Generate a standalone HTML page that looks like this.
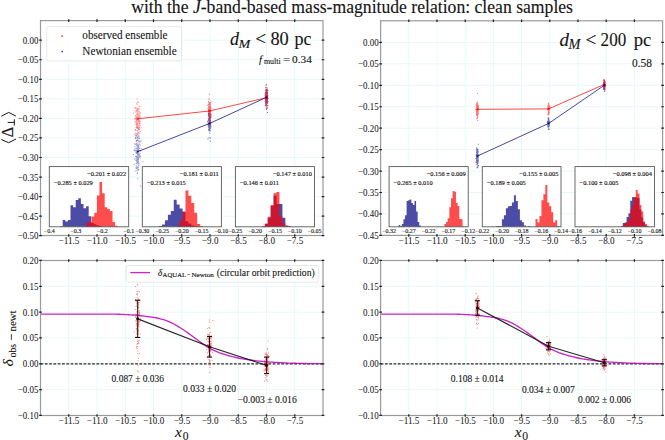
<!DOCTYPE html>
<html><head><meta charset="utf-8"><title>chart</title>
<style>html,body{margin:0;padding:0;background:#fff;} svg{display:block;}</style>
</head><body>
<svg width="665" height="440" viewBox="0 0 665 440" font-family='"Liberation Serif", serif'>
<rect width="665" height="440" fill="#fff"/>
<text x="131.2" y="13.4" font-size="18.2" fill="#141414" stroke="#141414" stroke-width="0.12" textLength="441.8" lengthAdjust="spacingAndGlyphs">with the <tspan font-style="italic">J</tspan>-band-based mass-magnitude relation: clean samples</text>
<line x1="68.75" y1="20.6" x2="68.75" y2="235.5" stroke="#e8f8f8" stroke-width="1.0"/>
<line x1="97.00" y1="20.6" x2="97.00" y2="235.5" stroke="#e8f8f8" stroke-width="1.0"/>
<line x1="125.25" y1="20.6" x2="125.25" y2="235.5" stroke="#e8f8f8" stroke-width="1.0"/>
<line x1="153.50" y1="20.6" x2="153.50" y2="235.5" stroke="#e8f8f8" stroke-width="1.0"/>
<line x1="181.75" y1="20.6" x2="181.75" y2="235.5" stroke="#e8f8f8" stroke-width="1.0"/>
<line x1="210.00" y1="20.6" x2="210.00" y2="235.5" stroke="#e8f8f8" stroke-width="1.0"/>
<line x1="238.25" y1="20.6" x2="238.25" y2="235.5" stroke="#e8f8f8" stroke-width="1.0"/>
<line x1="266.50" y1="20.6" x2="266.50" y2="235.5" stroke="#e8f8f8" stroke-width="1.0"/>
<line x1="294.75" y1="20.6" x2="294.75" y2="235.5" stroke="#e8f8f8" stroke-width="1.0"/>
<line x1="40.5" y1="40.20" x2="323.0" y2="40.20" stroke="#e8f8f8" stroke-width="1.0"/>
<line x1="40.5" y1="59.75" x2="323.0" y2="59.75" stroke="#e8f8f8" stroke-width="1.0"/>
<line x1="40.5" y1="79.30" x2="323.0" y2="79.30" stroke="#e8f8f8" stroke-width="1.0"/>
<line x1="40.5" y1="98.85" x2="323.0" y2="98.85" stroke="#e8f8f8" stroke-width="1.0"/>
<line x1="40.5" y1="118.40" x2="323.0" y2="118.40" stroke="#e8f8f8" stroke-width="1.0"/>
<line x1="40.5" y1="137.95" x2="323.0" y2="137.95" stroke="#e8f8f8" stroke-width="1.0"/>
<line x1="40.5" y1="157.50" x2="323.0" y2="157.50" stroke="#e8f8f8" stroke-width="1.0"/>
<line x1="40.5" y1="177.05" x2="323.0" y2="177.05" stroke="#e8f8f8" stroke-width="1.0"/>
<line x1="40.5" y1="196.60" x2="323.0" y2="196.60" stroke="#e8f8f8" stroke-width="1.0"/>
<line x1="40.5" y1="216.15" x2="323.0" y2="216.15" stroke="#e8f8f8" stroke-width="1.0"/>
<line x1="40.5" y1="235.70" x2="323.0" y2="235.70" stroke="#e8f8f8" stroke-width="1.0"/>
<line x1="408.80" y1="20.8" x2="408.80" y2="235.4" stroke="#e8f8f8" stroke-width="1.0"/>
<line x1="437.00" y1="20.8" x2="437.00" y2="235.4" stroke="#e8f8f8" stroke-width="1.0"/>
<line x1="465.20" y1="20.8" x2="465.20" y2="235.4" stroke="#e8f8f8" stroke-width="1.0"/>
<line x1="493.40" y1="20.8" x2="493.40" y2="235.4" stroke="#e8f8f8" stroke-width="1.0"/>
<line x1="521.60" y1="20.8" x2="521.60" y2="235.4" stroke="#e8f8f8" stroke-width="1.0"/>
<line x1="549.80" y1="20.8" x2="549.80" y2="235.4" stroke="#e8f8f8" stroke-width="1.0"/>
<line x1="578.00" y1="20.8" x2="578.00" y2="235.4" stroke="#e8f8f8" stroke-width="1.0"/>
<line x1="606.20" y1="20.8" x2="606.20" y2="235.4" stroke="#e8f8f8" stroke-width="1.0"/>
<line x1="634.40" y1="20.8" x2="634.40" y2="235.4" stroke="#e8f8f8" stroke-width="1.0"/>
<line x1="380.6" y1="42.40" x2="662.6" y2="42.40" stroke="#e8f8f8" stroke-width="1.0"/>
<line x1="380.6" y1="63.84" x2="662.6" y2="63.84" stroke="#e8f8f8" stroke-width="1.0"/>
<line x1="380.6" y1="85.29" x2="662.6" y2="85.29" stroke="#e8f8f8" stroke-width="1.0"/>
<line x1="380.6" y1="106.73" x2="662.6" y2="106.73" stroke="#e8f8f8" stroke-width="1.0"/>
<line x1="380.6" y1="128.18" x2="662.6" y2="128.18" stroke="#e8f8f8" stroke-width="1.0"/>
<line x1="380.6" y1="149.62" x2="662.6" y2="149.62" stroke="#e8f8f8" stroke-width="1.0"/>
<line x1="380.6" y1="171.07" x2="662.6" y2="171.07" stroke="#e8f8f8" stroke-width="1.0"/>
<line x1="380.6" y1="192.51" x2="662.6" y2="192.51" stroke="#e8f8f8" stroke-width="1.0"/>
<line x1="380.6" y1="213.96" x2="662.6" y2="213.96" stroke="#e8f8f8" stroke-width="1.0"/>
<line x1="380.6" y1="235.41" x2="662.6" y2="235.41" stroke="#e8f8f8" stroke-width="1.0"/>
<line x1="68.75" y1="260.5" x2="68.75" y2="415.5" stroke="#e8f8f8" stroke-width="1.0"/>
<line x1="97.00" y1="260.5" x2="97.00" y2="415.5" stroke="#e8f8f8" stroke-width="1.0"/>
<line x1="125.25" y1="260.5" x2="125.25" y2="415.5" stroke="#e8f8f8" stroke-width="1.0"/>
<line x1="153.50" y1="260.5" x2="153.50" y2="415.5" stroke="#e8f8f8" stroke-width="1.0"/>
<line x1="181.75" y1="260.5" x2="181.75" y2="415.5" stroke="#e8f8f8" stroke-width="1.0"/>
<line x1="210.00" y1="260.5" x2="210.00" y2="415.5" stroke="#e8f8f8" stroke-width="1.0"/>
<line x1="238.25" y1="260.5" x2="238.25" y2="415.5" stroke="#e8f8f8" stroke-width="1.0"/>
<line x1="266.50" y1="260.5" x2="266.50" y2="415.5" stroke="#e8f8f8" stroke-width="1.0"/>
<line x1="294.75" y1="260.5" x2="294.75" y2="415.5" stroke="#e8f8f8" stroke-width="1.0"/>
<line x1="40.5" y1="260.46" x2="323.0" y2="260.46" stroke="#e8f8f8" stroke-width="1.0"/>
<line x1="40.5" y1="286.30" x2="323.0" y2="286.30" stroke="#e8f8f8" stroke-width="1.0"/>
<line x1="40.5" y1="312.13" x2="323.0" y2="312.13" stroke="#e8f8f8" stroke-width="1.0"/>
<line x1="40.5" y1="337.97" x2="323.0" y2="337.97" stroke="#e8f8f8" stroke-width="1.0"/>
<line x1="40.5" y1="363.80" x2="323.0" y2="363.80" stroke="#e8f8f8" stroke-width="1.0"/>
<line x1="40.5" y1="389.63" x2="323.0" y2="389.63" stroke="#e8f8f8" stroke-width="1.0"/>
<line x1="40.5" y1="415.47" x2="323.0" y2="415.47" stroke="#e8f8f8" stroke-width="1.0"/>
<line x1="408.80" y1="260.5" x2="408.80" y2="415.5" stroke="#e8f8f8" stroke-width="1.0"/>
<line x1="437.00" y1="260.5" x2="437.00" y2="415.5" stroke="#e8f8f8" stroke-width="1.0"/>
<line x1="465.20" y1="260.5" x2="465.20" y2="415.5" stroke="#e8f8f8" stroke-width="1.0"/>
<line x1="493.40" y1="260.5" x2="493.40" y2="415.5" stroke="#e8f8f8" stroke-width="1.0"/>
<line x1="521.60" y1="260.5" x2="521.60" y2="415.5" stroke="#e8f8f8" stroke-width="1.0"/>
<line x1="549.80" y1="260.5" x2="549.80" y2="415.5" stroke="#e8f8f8" stroke-width="1.0"/>
<line x1="578.00" y1="260.5" x2="578.00" y2="415.5" stroke="#e8f8f8" stroke-width="1.0"/>
<line x1="606.20" y1="260.5" x2="606.20" y2="415.5" stroke="#e8f8f8" stroke-width="1.0"/>
<line x1="634.40" y1="260.5" x2="634.40" y2="415.5" stroke="#e8f8f8" stroke-width="1.0"/>
<line x1="380.6" y1="260.46" x2="662.6" y2="260.46" stroke="#e8f8f8" stroke-width="1.0"/>
<line x1="380.6" y1="286.30" x2="662.6" y2="286.30" stroke="#e8f8f8" stroke-width="1.0"/>
<line x1="380.6" y1="312.13" x2="662.6" y2="312.13" stroke="#e8f8f8" stroke-width="1.0"/>
<line x1="380.6" y1="337.97" x2="662.6" y2="337.97" stroke="#e8f8f8" stroke-width="1.0"/>
<line x1="380.6" y1="363.80" x2="662.6" y2="363.80" stroke="#e8f8f8" stroke-width="1.0"/>
<line x1="380.6" y1="389.63" x2="662.6" y2="389.63" stroke="#e8f8f8" stroke-width="1.0"/>
<line x1="380.6" y1="415.47" x2="662.6" y2="415.47" stroke="#e8f8f8" stroke-width="1.0"/>
<path d="M135.9 133.2h1v1h-1zM137.1 139.8h1v1h-1zM137.0 139.2h1v1h-1zM137.9 161.1h1v1h-1zM135.1 155.9h1v1h-1zM136.8 173.0h1v1h-1zM136.6 144.9h1v1h-1zM137.1 148.2h1v1h-1zM137.6 151.2h1v1h-1zM138.2 135.9h1v1h-1zM135.8 144.8h1v1h-1zM137.5 140.1h1v1h-1zM137.1 178.3h1v1h-1zM138.2 147.1h1v1h-1zM138.3 164.2h1v1h-1zM136.0 155.9h1v1h-1zM137.2 151.4h1v1h-1zM136.3 159.2h1v1h-1zM137.5 146.7h1v1h-1zM136.0 153.1h1v1h-1zM140.6 140.3h1v1h-1zM138.0 159.0h1v1h-1zM138.2 165.3h1v1h-1zM136.6 142.5h1v1h-1zM136.4 150.6h1v1h-1zM138.2 162.2h1v1h-1zM141.2 148.3h1v1h-1zM140.1 141.3h1v1h-1zM139.0 138.0h1v1h-1zM139.9 185.6h1v1h-1zM139.8 150.4h1v1h-1zM137.8 150.2h1v1h-1zM136.6 145.6h1v1h-1zM138.4 140.4h1v1h-1zM137.4 132.7h1v1h-1zM138.0 154.5h1v1h-1zM136.2 155.6h1v1h-1zM133.6 149.8h1v1h-1zM136.2 167.9h1v1h-1zM137.5 145.3h1v1h-1zM136.9 157.2h1v1h-1zM140.0 150.0h1v1h-1zM138.1 149.7h1v1h-1zM137.6 160.4h1v1h-1zM135.5 158.2h1v1h-1zM136.7 156.1h1v1h-1zM138.8 150.0h1v1h-1zM138.5 154.8h1v1h-1zM138.2 156.6h1v1h-1zM136.9 171.7h1v1h-1zM136.8 144.4h1v1h-1zM137.6 169.7h1v1h-1zM137.1 154.0h1v1h-1zM137.5 128.3h1v1h-1zM137.2 154.5h1v1h-1zM134.0 149.6h1v1h-1zM134.6 143.9h1v1h-1zM139.0 138.3h1v1h-1zM136.1 161.3h1v1h-1zM135.7 163.2h1v1h-1zM138.5 137.3h1v1h-1zM138.2 168.9h1v1h-1zM135.5 167.8h1v1h-1zM135.2 150.1h1v1h-1zM136.7 153.0h1v1h-1zM137.6 170.0h1v1h-1zM139.5 152.8h1v1h-1zM135.0 136.7h1v1h-1zM137.3 158.3h1v1h-1zM138.1 153.7h1v1h-1zM135.8 142.9h1v1h-1zM139.2 141.4h1v1h-1zM138.3 137.2h1v1h-1zM136.2 161.3h1v1h-1zM137.9 149.3h1v1h-1zM134.7 159.7h1v1h-1zM136.8 162.0h1v1h-1zM137.6 144.6h1v1h-1zM138.3 140.9h1v1h-1zM139.8 144.6h1v1h-1zM137.4 145.8h1v1h-1zM136.9 152.9h1v1h-1zM136.6 140.1h1v1h-1zM137.3 158.7h1v1h-1zM137.6 166.9h1v1h-1zM137.6 152.8h1v1h-1zM137.9 132.3h1v1h-1zM133.7 163.7h1v1h-1zM138.8 156.2h1v1h-1zM137.3 160.7h1v1h-1zM138.3 156.0h1v1h-1zM135.5 147.8h1v1h-1zM135.7 151.7h1v1h-1zM136.8 156.2h1v1h-1zM136.4 149.8h1v1h-1zM134.9 138.0h1v1h-1zM135.9 135.3h1v1h-1zM136.6 166.0h1v1h-1zM139.5 157.5h1v1h-1zM135.3 136.9h1v1h-1zM134.7 170.4h1v1h-1zM136.6 126.7h1v1h-1zM135.6 165.3h1v1h-1zM138.0 159.1h1v1h-1zM135.5 152.3h1v1h-1zM136.7 152.3h1v1h-1zM138.4 157.1h1v1h-1zM137.9 156.2h1v1h-1zM134.4 148.4h1v1h-1zM136.6 166.7h1v1h-1zM137.7 159.7h1v1h-1zM139.5 147.7h1v1h-1zM136.8 124.1h1v1h-1zM138.6 148.0h1v1h-1zM136.6 159.0h1v1h-1zM136.8 168.1h1v1h-1zM139.0 154.3h1v1h-1zM137.0 149.5h1v1h-1zM137.0 136.9h1v1h-1zM136.5 135.9h1v1h-1zM137.9 167.3h1v1h-1zM136.3 169.7h1v1h-1zM137.3 146.8h1v1h-1zM134.2 158.5h1v1h-1zM138.1 148.9h1v1h-1zM136.8 157.8h1v1h-1zM137.3 160.4h1v1h-1zM136.0 148.2h1v1h-1zM136.7 148.2h1v1h-1zM138.4 163.3h1v1h-1zM138.9 154.5h1v1h-1zM138.3 144.9h1v1h-1zM138.1 154.2h1v1h-1zM135.8 139.9h1v1h-1zM135.3 129.8h1v1h-1zM134.5 150.2h1v1h-1zM138.4 146.2h1v1h-1zM142.5 161.2h1v1h-1zM138.0 158.1h1v1h-1zM137.9 150.8h1v1h-1zM138.4 129.1h1v1h-1zM138.5 140.5h1v1h-1zM139.4 155.0h1v1h-1zM137.1 158.0h1v1h-1zM135.4 151.6h1v1h-1zM137.7 153.2h1v1h-1zM137.6 161.6h1v1h-1zM136.8 146.8h1v1h-1zM140.0 155.8h1v1h-1zM136.9 156.8h1v1h-1zM136.7 160.2h1v1h-1zM138.7 143.8h1v1h-1zM138.1 140.7h1v1h-1zM134.4 146.2h1v1h-1zM137.9 137.8h1v1h-1zM138.0 152.9h1v1h-1zM137.5 169.0h1v1h-1zM134.3 143.2h1v1h-1zM138.3 135.3h1v1h-1zM136.9 166.4h1v1h-1zM135.9 163.1h1v1h-1zM135.8 156.8h1v1h-1zM135.6 167.0h1v1h-1zM135.7 152.5h1v1h-1zM137.8 162.8h1v1h-1zM137.3 159.1h1v1h-1zM136.4 143.8h1v1h-1zM136.0 144.7h1v1h-1zM136.4 135.3h1v1h-1zM137.2 163.3h1v1h-1zM133.0 154.1h1v1h-1zM135.6 140.7h1v1h-1zM137.5 148.9h1v1h-1zM137.7 148.4h1v1h-1zM136.1 160.0h1v1h-1zM136.8 161.9h1v1h-1zM135.1 134.4h1v1h-1zM135.7 139.4h1v1h-1zM136.8 155.7h1v1h-1zM138.7 156.0h1v1h-1z" fill="#000080" fill-opacity="0.4"/>
<path d="M138.5 142.5h1v1h-1zM136.9 109.7h1v1h-1zM139.3 116.2h1v1h-1zM139.5 116.1h1v1h-1zM137.3 123.1h1v1h-1zM139.3 124.3h1v1h-1zM135.7 126.9h1v1h-1zM136.9 133.8h1v1h-1zM136.3 124.0h1v1h-1zM137.0 123.0h1v1h-1zM136.3 127.8h1v1h-1zM136.8 130.1h1v1h-1zM138.6 129.6h1v1h-1zM137.7 118.9h1v1h-1zM138.3 123.2h1v1h-1zM137.5 110.2h1v1h-1zM138.5 108.5h1v1h-1zM137.1 134.2h1v1h-1zM137.9 118.7h1v1h-1zM135.1 121.5h1v1h-1zM139.5 117.0h1v1h-1zM136.0 110.6h1v1h-1zM138.3 121.3h1v1h-1zM135.6 137.4h1v1h-1zM137.6 123.1h1v1h-1zM136.7 116.1h1v1h-1zM137.5 120.8h1v1h-1zM136.5 103.9h1v1h-1zM137.3 113.9h1v1h-1zM134.3 117.9h1v1h-1zM139.1 126.9h1v1h-1zM136.2 119.2h1v1h-1zM139.9 117.7h1v1h-1zM133.5 107.2h1v1h-1zM136.5 108.1h1v1h-1zM137.8 109.0h1v1h-1zM136.8 120.1h1v1h-1zM136.5 111.5h1v1h-1zM139.7 112.7h1v1h-1zM139.3 120.5h1v1h-1zM139.5 114.9h1v1h-1zM138.0 117.1h1v1h-1zM135.8 117.4h1v1h-1zM135.3 116.2h1v1h-1zM136.0 140.4h1v1h-1zM136.0 120.1h1v1h-1zM139.3 106.1h1v1h-1zM138.6 118.4h1v1h-1zM138.3 114.1h1v1h-1zM139.0 121.1h1v1h-1zM136.5 98.5h1v1h-1zM139.5 123.1h1v1h-1zM137.5 117.8h1v1h-1zM136.7 110.3h1v1h-1zM135.0 107.0h1v1h-1zM136.4 107.4h1v1h-1zM138.4 127.5h1v1h-1zM138.3 131.4h1v1h-1zM135.0 118.0h1v1h-1zM139.7 120.3h1v1h-1zM135.7 118.9h1v1h-1zM136.8 127.7h1v1h-1zM136.6 108.3h1v1h-1zM136.4 127.8h1v1h-1zM134.7 107.8h1v1h-1zM134.5 129.6h1v1h-1zM135.8 110.0h1v1h-1zM135.7 121.9h1v1h-1zM139.2 124.7h1v1h-1zM137.8 113.7h1v1h-1zM137.8 113.5h1v1h-1zM137.7 126.9h1v1h-1zM135.1 111.6h1v1h-1zM137.8 124.9h1v1h-1zM137.0 119.8h1v1h-1zM138.2 120.1h1v1h-1zM135.2 116.5h1v1h-1zM138.3 120.4h1v1h-1zM135.9 118.6h1v1h-1zM135.6 121.3h1v1h-1zM135.0 129.2h1v1h-1zM136.1 102.8h1v1h-1zM137.7 118.7h1v1h-1zM135.8 121.7h1v1h-1zM137.1 113.1h1v1h-1zM136.3 113.9h1v1h-1zM137.4 112.2h1v1h-1zM135.2 114.9h1v1h-1zM138.3 121.4h1v1h-1zM135.9 123.6h1v1h-1zM137.1 126.7h1v1h-1zM139.3 124.8h1v1h-1zM134.6 123.7h1v1h-1zM137.8 125.7h1v1h-1zM138.2 128.4h1v1h-1zM136.6 126.5h1v1h-1zM139.7 112.0h1v1h-1zM136.9 120.7h1v1h-1zM139.0 121.8h1v1h-1zM139.6 125.0h1v1h-1zM137.8 117.3h1v1h-1zM137.7 108.3h1v1h-1zM136.5 117.1h1v1h-1zM138.1 101.9h1v1h-1zM137.0 117.3h1v1h-1zM136.1 117.1h1v1h-1zM137.3 117.4h1v1h-1zM136.2 120.5h1v1h-1zM138.6 115.7h1v1h-1zM138.5 116.5h1v1h-1zM136.2 115.8h1v1h-1zM135.9 117.6h1v1h-1zM136.3 102.4h1v1h-1zM136.6 119.6h1v1h-1zM138.5 126.3h1v1h-1zM138.6 122.9h1v1h-1zM136.8 114.4h1v1h-1zM137.8 120.1h1v1h-1zM138.7 131.3h1v1h-1zM137.0 109.0h1v1h-1zM135.9 122.9h1v1h-1zM137.3 117.3h1v1h-1zM133.2 112.6h1v1h-1zM135.5 110.4h1v1h-1zM138.4 115.4h1v1h-1zM138.1 126.5h1v1h-1zM134.5 121.2h1v1h-1zM139.3 128.3h1v1h-1zM136.8 108.7h1v1h-1zM139.0 124.7h1v1h-1zM137.0 101.3h1v1h-1zM140.6 126.7h1v1h-1zM137.8 119.7h1v1h-1zM136.1 109.4h1v1h-1zM136.6 123.8h1v1h-1zM140.0 130.7h1v1h-1zM136.1 124.9h1v1h-1zM136.8 113.6h1v1h-1zM137.1 138.1h1v1h-1zM139.1 132.7h1v1h-1zM136.5 122.1h1v1h-1zM136.4 120.3h1v1h-1zM137.4 119.8h1v1h-1zM136.9 133.5h1v1h-1zM139.3 112.6h1v1h-1zM138.6 107.7h1v1h-1zM137.3 125.4h1v1h-1zM138.4 122.3h1v1h-1zM138.8 121.9h1v1h-1zM136.6 113.0h1v1h-1zM137.7 133.9h1v1h-1zM136.7 126.7h1v1h-1zM138.3 110.6h1v1h-1zM134.7 119.2h1v1h-1zM137.1 130.6h1v1h-1zM138.1 108.6h1v1h-1zM136.2 124.8h1v1h-1zM138.5 105.6h1v1h-1zM138.0 128.1h1v1h-1zM135.2 116.7h1v1h-1zM139.1 113.4h1v1h-1zM138.3 123.3h1v1h-1zM137.5 116.6h1v1h-1zM137.0 110.4h1v1h-1zM137.9 114.5h1v1h-1zM135.1 132.6h1v1h-1zM136.0 125.8h1v1h-1zM139.6 121.4h1v1h-1zM136.8 120.7h1v1h-1zM138.5 127.8h1v1h-1zM137.2 126.3h1v1h-1zM137.7 117.2h1v1h-1zM135.8 122.6h1v1h-1zM137.0 116.6h1v1h-1zM136.4 122.7h1v1h-1zM135.5 134.5h1v1h-1zM138.4 119.7h1v1h-1zM136.6 123.9h1v1h-1zM138.5 110.9h1v1h-1zM133.8 133.7h1v1h-1z" fill="#ff0000" fill-opacity="0.42"/>
<path d="M208.7 121.1h1v1h-1zM209.1 126.3h1v1h-1zM210.3 116.9h1v1h-1zM208.7 122.1h1v1h-1zM208.7 130.3h1v1h-1zM209.6 123.6h1v1h-1zM209.4 124.5h1v1h-1zM208.0 119.0h1v1h-1zM207.9 118.2h1v1h-1zM209.5 123.5h1v1h-1zM208.5 120.0h1v1h-1zM210.0 140.7h1v1h-1zM208.9 117.7h1v1h-1zM208.7 120.1h1v1h-1zM208.7 123.6h1v1h-1zM208.5 123.1h1v1h-1zM208.9 120.3h1v1h-1zM209.0 124.9h1v1h-1zM208.4 123.0h1v1h-1zM209.0 118.4h1v1h-1zM208.5 120.4h1v1h-1zM208.2 124.8h1v1h-1zM208.2 126.8h1v1h-1zM208.9 125.6h1v1h-1zM209.8 128.1h1v1h-1zM209.4 115.9h1v1h-1zM208.5 124.4h1v1h-1zM209.8 124.0h1v1h-1zM209.2 128.8h1v1h-1zM208.4 109.6h1v1h-1zM209.1 123.5h1v1h-1zM209.3 118.6h1v1h-1zM208.8 123.5h1v1h-1zM208.7 114.7h1v1h-1zM209.4 123.3h1v1h-1zM209.2 126.7h1v1h-1zM208.9 117.3h1v1h-1zM209.6 129.9h1v1h-1zM209.4 122.9h1v1h-1zM208.0 129.3h1v1h-1zM209.3 119.4h1v1h-1zM209.0 124.3h1v1h-1zM207.1 123.9h1v1h-1zM209.3 116.0h1v1h-1zM210.4 123.5h1v1h-1zM209.3 120.1h1v1h-1zM209.1 124.0h1v1h-1zM207.9 124.0h1v1h-1zM209.8 122.9h1v1h-1zM209.4 113.1h1v1h-1zM210.6 116.5h1v1h-1zM209.2 130.2h1v1h-1zM209.2 129.3h1v1h-1zM208.3 129.4h1v1h-1zM209.2 115.9h1v1h-1zM209.8 113.6h1v1h-1zM209.3 121.4h1v1h-1zM209.4 124.5h1v1h-1zM209.1 119.3h1v1h-1zM209.0 129.6h1v1h-1zM209.6 125.0h1v1h-1zM208.4 121.5h1v1h-1zM209.1 125.8h1v1h-1zM209.9 115.2h1v1h-1zM209.6 122.2h1v1h-1zM208.8 126.8h1v1h-1zM207.6 120.3h1v1h-1zM209.6 121.1h1v1h-1zM208.6 125.9h1v1h-1zM209.0 120.5h1v1h-1zM209.2 123.1h1v1h-1zM208.9 122.1h1v1h-1zM209.4 118.1h1v1h-1zM208.5 122.1h1v1h-1zM208.7 120.9h1v1h-1zM210.0 121.7h1v1h-1zM209.9 116.3h1v1h-1zM209.6 121.9h1v1h-1zM209.0 123.9h1v1h-1zM208.5 110.8h1v1h-1zM209.9 119.7h1v1h-1zM210.0 125.3h1v1h-1zM208.6 137.2h1v1h-1zM208.8 121.7h1v1h-1zM209.1 121.8h1v1h-1zM209.7 120.6h1v1h-1zM209.6 125.4h1v1h-1zM209.8 126.2h1v1h-1zM209.3 126.3h1v1h-1zM209.7 126.4h1v1h-1zM208.7 112.2h1v1h-1zM209.4 119.7h1v1h-1zM209.1 121.8h1v1h-1zM208.6 118.7h1v1h-1zM209.1 123.0h1v1h-1zM208.5 127.4h1v1h-1zM208.6 121.6h1v1h-1zM207.9 114.8h1v1h-1zM208.3 113.7h1v1h-1zM208.4 115.9h1v1h-1zM209.3 119.9h1v1h-1zM208.6 128.2h1v1h-1zM209.1 126.8h1v1h-1zM209.6 121.5h1v1h-1zM209.3 125.8h1v1h-1zM208.6 121.6h1v1h-1zM208.8 118.7h1v1h-1zM209.0 116.6h1v1h-1zM208.4 119.0h1v1h-1zM208.9 129.5h1v1h-1zM208.6 125.9h1v1h-1zM208.1 119.2h1v1h-1zM208.7 124.9h1v1h-1zM209.1 113.6h1v1h-1zM210.1 121.4h1v1h-1zM209.5 123.3h1v1h-1zM209.7 125.3h1v1h-1zM209.1 124.5h1v1h-1zM208.7 122.4h1v1h-1zM208.3 123.7h1v1h-1zM208.0 128.9h1v1h-1zM209.8 122.9h1v1h-1zM209.6 113.9h1v1h-1zM208.4 122.1h1v1h-1zM207.8 123.5h1v1h-1zM208.7 116.0h1v1h-1zM208.1 113.1h1v1h-1zM209.5 128.0h1v1h-1zM209.4 123.5h1v1h-1zM208.2 114.0h1v1h-1zM209.7 130.4h1v1h-1zM208.5 120.0h1v1h-1zM209.0 125.3h1v1h-1zM209.1 124.6h1v1h-1zM207.0 121.3h1v1h-1zM209.1 122.5h1v1h-1zM209.1 118.8h1v1h-1zM207.8 125.6h1v1h-1zM209.6 118.2h1v1h-1zM208.9 130.2h1v1h-1zM208.7 110.4h1v1h-1zM209.3 123.9h1v1h-1zM209.8 122.9h1v1h-1zM209.1 122.6h1v1h-1zM209.7 126.8h1v1h-1zM209.7 123.7h1v1h-1zM209.2 122.9h1v1h-1zM208.7 125.9h1v1h-1zM209.7 125.1h1v1h-1zM210.3 127.3h1v1h-1zM209.6 116.1h1v1h-1zM209.3 128.2h1v1h-1zM208.6 118.8h1v1h-1zM207.4 138.5h1v1h-1zM208.1 126.5h1v1h-1zM209.1 125.6h1v1h-1zM209.3 126.7h1v1h-1zM209.7 119.7h1v1h-1zM210.6 125.7h1v1h-1zM208.8 115.1h1v1h-1zM208.3 122.3h1v1h-1zM208.0 128.9h1v1h-1zM209.9 137.5h1v1h-1zM208.5 122.1h1v1h-1zM209.1 132.5h1v1h-1zM209.4 119.8h1v1h-1zM208.4 125.6h1v1h-1zM209.4 119.4h1v1h-1zM209.3 121.6h1v1h-1zM208.6 122.8h1v1h-1zM208.7 112.4h1v1h-1zM209.2 124.9h1v1h-1zM209.0 122.4h1v1h-1zM209.3 119.8h1v1h-1zM208.9 125.8h1v1h-1zM210.0 117.7h1v1h-1zM208.9 127.6h1v1h-1zM209.7 124.4h1v1h-1zM209.5 125.6h1v1h-1zM208.8 129.1h1v1h-1zM210.5 114.7h1v1h-1zM208.5 120.1h1v1h-1zM209.9 125.4h1v1h-1zM208.3 129.4h1v1h-1zM208.9 121.0h1v1h-1zM208.3 120.0h1v1h-1zM209.3 116.7h1v1h-1zM208.5 118.4h1v1h-1zM209.2 129.0h1v1h-1zM208.5 118.1h1v1h-1z" fill="#000080" fill-opacity="0.55"/>
<path d="M209.6 114.0h1v1h-1zM208.4 110.1h1v1h-1zM209.0 115.9h1v1h-1zM210.4 121.9h1v1h-1zM210.2 111.1h1v1h-1zM208.5 119.8h1v1h-1zM208.9 93.4h1v1h-1zM208.3 114.0h1v1h-1zM208.3 111.7h1v1h-1zM208.7 111.9h1v1h-1zM208.8 109.7h1v1h-1zM208.3 111.3h1v1h-1zM207.8 112.4h1v1h-1zM208.6 99.3h1v1h-1zM209.5 113.4h1v1h-1zM209.1 113.4h1v1h-1zM208.7 111.8h1v1h-1zM209.8 105.7h1v1h-1zM208.9 112.2h1v1h-1zM209.9 112.5h1v1h-1zM208.6 110.0h1v1h-1zM209.1 109.6h1v1h-1zM209.8 108.7h1v1h-1zM208.4 106.5h1v1h-1zM209.7 113.9h1v1h-1zM209.2 111.6h1v1h-1zM208.6 106.6h1v1h-1zM209.0 115.4h1v1h-1zM209.4 107.5h1v1h-1zM209.7 113.2h1v1h-1zM208.4 111.9h1v1h-1zM208.9 102.8h1v1h-1zM208.5 109.8h1v1h-1zM210.3 109.0h1v1h-1zM208.2 113.4h1v1h-1zM208.7 113.4h1v1h-1zM208.6 105.8h1v1h-1zM209.3 108.2h1v1h-1zM208.9 113.0h1v1h-1zM208.6 108.6h1v1h-1zM210.0 115.1h1v1h-1zM209.3 107.9h1v1h-1zM208.3 114.7h1v1h-1zM209.8 116.0h1v1h-1zM209.5 108.4h1v1h-1zM208.5 108.1h1v1h-1zM209.0 111.6h1v1h-1zM209.1 105.5h1v1h-1zM209.9 108.5h1v1h-1zM208.7 124.9h1v1h-1zM209.8 102.5h1v1h-1zM206.8 104.8h1v1h-1zM209.2 107.3h1v1h-1zM210.9 113.7h1v1h-1zM209.3 109.2h1v1h-1zM208.7 110.4h1v1h-1zM208.3 107.8h1v1h-1zM210.2 110.3h1v1h-1zM208.7 110.9h1v1h-1zM209.1 116.8h1v1h-1zM208.9 111.4h1v1h-1zM208.8 106.6h1v1h-1zM208.5 111.1h1v1h-1zM209.6 113.4h1v1h-1zM209.4 113.8h1v1h-1zM208.5 110.9h1v1h-1zM209.2 112.6h1v1h-1zM208.7 107.1h1v1h-1zM209.8 118.8h1v1h-1zM208.9 114.3h1v1h-1zM208.2 105.6h1v1h-1zM209.1 109.8h1v1h-1zM208.0 112.7h1v1h-1zM209.7 114.1h1v1h-1zM209.4 112.6h1v1h-1zM208.0 104.0h1v1h-1zM209.1 109.3h1v1h-1zM209.9 116.0h1v1h-1zM209.1 105.8h1v1h-1zM208.7 117.0h1v1h-1zM208.6 113.1h1v1h-1zM208.5 110.3h1v1h-1zM209.3 107.2h1v1h-1zM209.3 107.3h1v1h-1zM208.8 111.1h1v1h-1zM208.8 107.4h1v1h-1zM209.4 113.0h1v1h-1zM209.0 108.1h1v1h-1zM209.0 109.8h1v1h-1zM209.0 110.8h1v1h-1zM208.9 113.5h1v1h-1zM209.4 108.6h1v1h-1zM208.7 106.5h1v1h-1zM208.9 105.1h1v1h-1zM209.3 112.5h1v1h-1zM208.3 111.4h1v1h-1zM209.3 106.9h1v1h-1zM210.0 123.8h1v1h-1zM209.5 108.3h1v1h-1zM208.1 112.3h1v1h-1zM208.8 110.6h1v1h-1zM208.5 98.8h1v1h-1zM209.2 122.9h1v1h-1zM209.0 110.0h1v1h-1zM209.5 103.4h1v1h-1zM208.9 112.3h1v1h-1zM209.4 102.1h1v1h-1zM209.2 107.2h1v1h-1zM210.0 108.2h1v1h-1zM209.8 115.0h1v1h-1zM208.9 108.0h1v1h-1zM210.5 107.5h1v1h-1zM208.8 112.4h1v1h-1zM208.7 104.5h1v1h-1zM208.5 113.0h1v1h-1zM209.3 107.6h1v1h-1zM208.7 116.1h1v1h-1zM209.7 103.4h1v1h-1zM208.6 110.4h1v1h-1zM209.6 111.4h1v1h-1zM209.7 107.9h1v1h-1zM209.6 107.2h1v1h-1zM209.7 106.0h1v1h-1zM208.9 113.3h1v1h-1zM209.5 110.9h1v1h-1zM208.8 106.8h1v1h-1zM208.4 111.9h1v1h-1zM209.4 103.7h1v1h-1zM208.8 117.5h1v1h-1zM209.0 108.1h1v1h-1zM209.3 114.2h1v1h-1zM209.2 118.6h1v1h-1zM208.8 107.7h1v1h-1zM208.7 115.7h1v1h-1zM209.7 118.2h1v1h-1zM209.8 111.7h1v1h-1zM209.8 117.1h1v1h-1zM208.1 116.4h1v1h-1zM210.2 101.8h1v1h-1zM210.2 107.8h1v1h-1zM209.5 110.1h1v1h-1zM208.9 108.1h1v1h-1zM209.3 110.4h1v1h-1zM209.5 110.1h1v1h-1zM208.9 103.9h1v1h-1zM208.0 114.5h1v1h-1zM208.7 102.1h1v1h-1zM207.8 106.6h1v1h-1zM209.2 110.4h1v1h-1zM209.9 104.3h1v1h-1zM209.2 107.5h1v1h-1zM208.7 116.5h1v1h-1zM209.4 109.1h1v1h-1zM210.0 120.3h1v1h-1zM209.6 120.9h1v1h-1zM208.9 109.0h1v1h-1zM210.2 106.5h1v1h-1zM208.8 109.9h1v1h-1zM208.2 102.2h1v1h-1zM208.1 116.3h1v1h-1zM209.4 114.0h1v1h-1zM208.9 107.5h1v1h-1zM210.0 112.1h1v1h-1zM209.0 109.2h1v1h-1zM208.4 102.4h1v1h-1zM209.4 112.3h1v1h-1zM207.5 108.2h1v1h-1zM208.5 122.1h1v1h-1zM209.0 111.5h1v1h-1zM208.5 106.3h1v1h-1zM208.0 101.0h1v1h-1zM208.8 102.4h1v1h-1zM209.8 115.4h1v1h-1zM209.0 111.8h1v1h-1zM208.3 108.0h1v1h-1zM207.8 110.7h1v1h-1zM209.5 115.7h1v1h-1zM208.4 113.2h1v1h-1zM209.1 110.2h1v1h-1zM209.9 109.9h1v1h-1zM209.8 108.0h1v1h-1zM210.3 111.1h1v1h-1zM209.4 111.9h1v1h-1zM208.4 111.1h1v1h-1zM208.6 109.1h1v1h-1zM210.3 110.3h1v1h-1zM209.5 110.8h1v1h-1zM208.0 109.8h1v1h-1zM208.9 108.4h1v1h-1zM209.5 110.6h1v1h-1z" fill="#ff0000" fill-opacity="0.55"/>
<path d="M266.1 99.9h1v1h-1zM265.1 105.1h1v1h-1zM266.9 100.5h1v1h-1zM267.0 91.8h1v1h-1zM266.9 95.8h1v1h-1zM266.3 87.0h1v1h-1zM266.1 93.6h1v1h-1zM265.9 98.3h1v1h-1zM265.0 102.7h1v1h-1zM267.3 90.0h1v1h-1zM264.7 95.1h1v1h-1zM266.8 100.0h1v1h-1zM264.7 94.9h1v1h-1zM266.3 95.7h1v1h-1zM266.0 97.9h1v1h-1zM266.3 96.2h1v1h-1zM266.4 97.5h1v1h-1zM265.9 92.7h1v1h-1zM265.9 83.9h1v1h-1zM266.3 97.0h1v1h-1zM264.7 97.3h1v1h-1zM266.6 98.3h1v1h-1zM267.1 95.2h1v1h-1zM266.3 89.7h1v1h-1zM266.2 93.4h1v1h-1zM266.1 98.0h1v1h-1zM266.2 95.4h1v1h-1zM267.0 99.2h1v1h-1zM266.2 99.0h1v1h-1zM266.1 89.0h1v1h-1zM266.2 97.0h1v1h-1zM266.2 99.2h1v1h-1zM266.6 92.6h1v1h-1zM266.6 94.7h1v1h-1zM265.8 91.9h1v1h-1zM266.2 94.0h1v1h-1zM267.5 98.1h1v1h-1zM265.9 99.1h1v1h-1zM266.1 99.4h1v1h-1zM265.7 96.4h1v1h-1zM267.3 101.1h1v1h-1zM266.6 100.8h1v1h-1zM265.8 93.3h1v1h-1zM266.0 91.6h1v1h-1zM266.1 94.2h1v1h-1zM265.6 94.4h1v1h-1zM266.1 93.1h1v1h-1zM266.0 101.1h1v1h-1zM266.6 101.8h1v1h-1zM265.2 99.5h1v1h-1zM265.7 99.9h1v1h-1zM265.6 89.5h1v1h-1zM266.2 94.1h1v1h-1zM266.1 91.9h1v1h-1zM267.2 98.1h1v1h-1zM265.9 108.7h1v1h-1zM265.2 99.3h1v1h-1zM265.7 97.8h1v1h-1zM266.5 95.5h1v1h-1zM266.2 103.2h1v1h-1zM265.3 97.9h1v1h-1zM265.7 103.8h1v1h-1zM265.9 96.0h1v1h-1zM265.7 100.0h1v1h-1zM265.2 94.9h1v1h-1zM265.9 94.8h1v1h-1zM266.5 106.9h1v1h-1zM264.9 99.2h1v1h-1zM265.8 101.1h1v1h-1zM266.5 94.5h1v1h-1zM267.0 99.8h1v1h-1zM265.2 93.6h1v1h-1zM266.0 92.1h1v1h-1zM266.9 98.6h1v1h-1zM265.9 101.3h1v1h-1zM265.8 100.6h1v1h-1zM265.1 86.7h1v1h-1zM266.5 94.6h1v1h-1zM266.1 95.9h1v1h-1zM266.0 90.9h1v1h-1zM266.5 96.8h1v1h-1zM266.6 96.9h1v1h-1zM266.3 99.6h1v1h-1zM265.8 101.2h1v1h-1zM266.3 94.8h1v1h-1zM266.0 98.4h1v1h-1zM265.2 94.6h1v1h-1zM265.0 92.0h1v1h-1zM266.9 96.7h1v1h-1zM266.0 93.4h1v1h-1zM266.2 99.7h1v1h-1zM267.0 96.1h1v1h-1zM267.0 92.9h1v1h-1zM265.5 95.2h1v1h-1zM266.5 99.7h1v1h-1zM266.0 98.2h1v1h-1zM267.0 96.2h1v1h-1zM266.6 99.1h1v1h-1zM265.5 96.7h1v1h-1zM265.3 93.7h1v1h-1zM265.8 96.4h1v1h-1zM266.1 96.2h1v1h-1zM266.5 94.0h1v1h-1zM265.8 102.8h1v1h-1zM265.8 94.4h1v1h-1zM266.5 100.1h1v1h-1zM265.6 99.3h1v1h-1zM266.8 91.4h1v1h-1zM265.2 98.1h1v1h-1zM266.6 94.5h1v1h-1zM266.9 95.0h1v1h-1zM267.1 94.9h1v1h-1zM266.3 90.2h1v1h-1zM267.0 91.9h1v1h-1zM265.5 98.0h1v1h-1zM265.6 96.5h1v1h-1zM265.8 104.3h1v1h-1zM266.4 89.6h1v1h-1zM265.4 97.3h1v1h-1zM266.9 92.2h1v1h-1zM266.6 92.0h1v1h-1zM265.8 95.1h1v1h-1zM266.1 98.9h1v1h-1zM266.4 103.4h1v1h-1zM265.6 99.6h1v1h-1zM265.1 95.5h1v1h-1zM265.9 93.2h1v1h-1zM265.8 90.5h1v1h-1zM266.9 102.9h1v1h-1zM264.6 95.6h1v1h-1zM265.8 93.2h1v1h-1zM266.8 99.0h1v1h-1zM265.7 94.5h1v1h-1zM266.3 94.1h1v1h-1zM266.3 90.4h1v1h-1zM265.5 84.7h1v1h-1zM265.9 96.9h1v1h-1zM265.2 95.0h1v1h-1zM266.4 93.6h1v1h-1zM266.1 96.1h1v1h-1zM265.8 95.8h1v1h-1zM265.1 102.0h1v1h-1zM266.4 97.5h1v1h-1zM265.2 98.2h1v1h-1zM266.2 91.8h1v1h-1zM265.0 99.5h1v1h-1zM265.2 95.3h1v1h-1zM265.8 98.4h1v1h-1zM266.7 95.4h1v1h-1zM265.8 90.1h1v1h-1zM266.5 97.4h1v1h-1zM267.4 104.9h1v1h-1zM266.3 93.6h1v1h-1zM265.6 103.8h1v1h-1zM266.8 93.7h1v1h-1zM265.3 101.6h1v1h-1zM266.4 95.3h1v1h-1zM266.4 104.7h1v1h-1zM265.5 99.0h1v1h-1zM266.2 97.6h1v1h-1zM266.0 101.1h1v1h-1zM266.2 99.1h1v1h-1zM265.7 96.1h1v1h-1zM265.3 94.3h1v1h-1zM266.2 94.2h1v1h-1zM266.5 94.9h1v1h-1zM266.6 96.1h1v1h-1zM266.8 95.2h1v1h-1zM266.9 101.5h1v1h-1zM266.1 94.0h1v1h-1zM265.3 97.0h1v1h-1zM265.4 94.5h1v1h-1zM266.6 93.8h1v1h-1zM266.0 92.9h1v1h-1zM265.8 99.8h1v1h-1zM266.2 96.5h1v1h-1zM265.8 93.6h1v1h-1zM265.3 100.9h1v1h-1zM265.2 93.6h1v1h-1zM266.6 93.5h1v1h-1zM266.0 108.8h1v1h-1zM266.3 100.4h1v1h-1zM265.9 90.6h1v1h-1zM265.5 99.3h1v1h-1zM267.0 111.9h1v1h-1zM266.6 98.7h1v1h-1zM266.6 102.1h1v1h-1zM266.5 88.4h1v1h-1zM265.9 95.1h1v1h-1zM265.6 100.7h1v1h-1z" fill="#000080" fill-opacity="0.55"/>
<path d="M266.3 93.7h1v1h-1zM265.7 93.5h1v1h-1zM267.0 98.0h1v1h-1zM266.6 101.6h1v1h-1zM265.9 100.8h1v1h-1zM265.7 95.7h1v1h-1zM265.1 95.8h1v1h-1zM266.3 102.3h1v1h-1zM266.2 97.4h1v1h-1zM266.4 89.9h1v1h-1zM267.2 96.9h1v1h-1zM265.5 94.5h1v1h-1zM266.3 103.2h1v1h-1zM265.7 98.2h1v1h-1zM266.7 99.4h1v1h-1zM266.6 97.4h1v1h-1zM265.9 96.4h1v1h-1zM266.6 97.4h1v1h-1zM264.5 93.0h1v1h-1zM265.7 93.8h1v1h-1zM266.1 95.5h1v1h-1zM266.6 94.5h1v1h-1zM266.4 105.4h1v1h-1zM266.4 96.4h1v1h-1zM265.9 98.8h1v1h-1zM266.1 92.2h1v1h-1zM266.5 97.3h1v1h-1zM266.7 105.8h1v1h-1zM266.7 98.4h1v1h-1zM265.4 91.3h1v1h-1zM265.9 96.9h1v1h-1zM266.4 98.9h1v1h-1zM266.3 103.1h1v1h-1zM266.2 98.0h1v1h-1zM265.3 88.4h1v1h-1zM266.4 99.0h1v1h-1zM266.4 98.7h1v1h-1zM266.4 98.6h1v1h-1zM266.3 96.0h1v1h-1zM266.1 94.3h1v1h-1zM266.3 101.1h1v1h-1zM266.2 97.0h1v1h-1zM265.8 93.0h1v1h-1zM266.0 98.6h1v1h-1zM265.5 96.4h1v1h-1zM266.0 98.4h1v1h-1zM267.1 95.9h1v1h-1zM264.8 93.7h1v1h-1zM266.8 92.7h1v1h-1zM267.2 107.5h1v1h-1zM265.7 100.3h1v1h-1zM265.8 107.3h1v1h-1zM264.7 105.6h1v1h-1zM264.8 90.3h1v1h-1zM266.5 94.1h1v1h-1zM265.9 97.4h1v1h-1zM266.6 96.4h1v1h-1zM266.7 99.1h1v1h-1zM266.1 101.0h1v1h-1zM265.7 96.5h1v1h-1zM266.8 99.2h1v1h-1zM266.1 97.3h1v1h-1zM266.5 96.1h1v1h-1zM265.9 96.0h1v1h-1zM266.8 97.8h1v1h-1zM265.0 104.3h1v1h-1zM266.7 96.0h1v1h-1zM265.4 97.0h1v1h-1zM267.0 102.1h1v1h-1zM266.9 99.1h1v1h-1zM266.2 100.1h1v1h-1zM265.3 96.7h1v1h-1zM266.1 98.8h1v1h-1zM266.2 100.3h1v1h-1zM265.4 94.7h1v1h-1zM266.3 95.5h1v1h-1zM266.2 100.7h1v1h-1zM266.3 97.7h1v1h-1zM266.7 99.9h1v1h-1zM266.4 95.8h1v1h-1zM264.9 95.8h1v1h-1zM265.5 92.1h1v1h-1zM266.0 101.1h1v1h-1zM265.6 93.5h1v1h-1zM266.2 94.9h1v1h-1zM266.1 91.3h1v1h-1zM266.7 99.9h1v1h-1zM266.0 105.8h1v1h-1zM266.3 93.8h1v1h-1zM266.9 88.5h1v1h-1zM266.5 94.5h1v1h-1zM266.1 98.1h1v1h-1zM266.5 101.1h1v1h-1zM266.6 99.0h1v1h-1zM265.5 97.6h1v1h-1zM267.0 93.0h1v1h-1zM266.2 103.3h1v1h-1zM266.3 98.2h1v1h-1zM265.9 97.2h1v1h-1zM266.7 98.4h1v1h-1zM266.5 108.0h1v1h-1zM266.9 100.3h1v1h-1zM266.3 101.3h1v1h-1zM265.5 101.4h1v1h-1zM266.3 101.0h1v1h-1zM267.4 95.1h1v1h-1zM265.9 96.5h1v1h-1zM265.8 103.6h1v1h-1zM264.8 96.1h1v1h-1zM266.3 102.8h1v1h-1zM265.7 90.3h1v1h-1zM266.9 97.2h1v1h-1zM267.0 99.5h1v1h-1zM266.6 94.5h1v1h-1zM265.4 96.4h1v1h-1zM266.3 98.7h1v1h-1zM266.1 90.1h1v1h-1zM266.4 95.9h1v1h-1zM265.9 95.2h1v1h-1zM265.6 91.7h1v1h-1zM265.3 89.4h1v1h-1zM266.6 91.3h1v1h-1zM266.4 94.8h1v1h-1zM266.5 94.4h1v1h-1zM265.2 99.4h1v1h-1zM266.7 91.9h1v1h-1zM266.4 96.6h1v1h-1zM265.9 100.8h1v1h-1zM266.3 98.4h1v1h-1zM265.9 98.8h1v1h-1zM265.7 97.3h1v1h-1zM266.6 93.8h1v1h-1zM266.7 96.4h1v1h-1zM266.0 97.1h1v1h-1zM265.6 98.6h1v1h-1zM266.3 98.0h1v1h-1zM266.0 96.5h1v1h-1zM265.8 95.1h1v1h-1zM266.4 94.8h1v1h-1zM267.1 90.1h1v1h-1zM266.0 94.9h1v1h-1zM266.5 102.4h1v1h-1zM266.4 99.7h1v1h-1zM266.1 101.0h1v1h-1zM265.8 105.1h1v1h-1zM266.3 88.8h1v1h-1zM266.7 100.5h1v1h-1zM266.0 92.6h1v1h-1zM265.7 89.4h1v1h-1zM266.3 99.5h1v1h-1zM267.4 101.1h1v1h-1zM266.4 94.1h1v1h-1zM267.1 96.2h1v1h-1zM265.2 100.2h1v1h-1zM266.0 95.9h1v1h-1zM266.3 100.7h1v1h-1zM265.6 91.1h1v1h-1zM266.0 95.2h1v1h-1zM267.0 97.0h1v1h-1zM266.4 98.4h1v1h-1zM266.1 97.0h1v1h-1zM265.6 99.6h1v1h-1zM264.6 100.9h1v1h-1zM265.0 97.4h1v1h-1zM266.4 97.8h1v1h-1zM267.4 97.9h1v1h-1zM266.2 94.7h1v1h-1zM267.0 97.4h1v1h-1zM265.5 98.0h1v1h-1zM266.2 94.4h1v1h-1zM265.2 95.3h1v1h-1zM266.0 95.7h1v1h-1zM266.5 95.1h1v1h-1zM266.4 99.9h1v1h-1zM266.0 97.8h1v1h-1zM266.5 95.5h1v1h-1zM265.5 92.5h1v1h-1zM266.4 97.8h1v1h-1zM265.7 97.4h1v1h-1zM265.9 97.7h1v1h-1zM267.0 95.2h1v1h-1zM266.7 95.4h1v1h-1zM266.3 92.0h1v1h-1zM264.8 99.6h1v1h-1zM265.7 108.3h1v1h-1zM266.1 99.1h1v1h-1zM266.5 100.2h1v1h-1zM265.3 99.5h1v1h-1zM265.4 101.9h1v1h-1zM266.3 99.5h1v1h-1z" fill="#ff0000" fill-opacity="0.55"/>
<path d="M477.5 148.8h1v1h-1zM476.7 156.1h1v1h-1zM476.4 155.2h1v1h-1zM477.0 156.5h1v1h-1zM476.8 152.4h1v1h-1zM477.0 155.4h1v1h-1zM477.4 152.4h1v1h-1zM477.1 155.4h1v1h-1zM477.1 155.1h1v1h-1zM476.9 154.9h1v1h-1zM477.3 151.8h1v1h-1zM476.9 157.0h1v1h-1zM476.7 149.7h1v1h-1zM476.3 155.6h1v1h-1zM476.0 161.4h1v1h-1zM476.4 152.8h1v1h-1zM476.6 152.1h1v1h-1zM476.8 156.7h1v1h-1zM476.4 150.2h1v1h-1zM477.1 161.4h1v1h-1zM476.8 157.4h1v1h-1zM477.6 158.9h1v1h-1zM476.5 155.3h1v1h-1zM476.9 159.4h1v1h-1zM476.3 162.3h1v1h-1zM477.3 160.0h1v1h-1zM477.3 167.2h1v1h-1zM477.0 159.2h1v1h-1zM477.5 160.9h1v1h-1zM477.3 159.7h1v1h-1zM476.7 154.8h1v1h-1zM477.2 152.5h1v1h-1zM476.2 149.3h1v1h-1zM476.4 164.0h1v1h-1zM477.5 155.7h1v1h-1zM476.6 151.7h1v1h-1zM477.0 155.2h1v1h-1zM477.7 156.9h1v1h-1zM477.0 159.4h1v1h-1zM475.9 157.1h1v1h-1zM477.7 162.3h1v1h-1zM476.3 154.3h1v1h-1zM476.3 156.3h1v1h-1zM476.8 150.9h1v1h-1zM476.7 154.4h1v1h-1zM477.2 156.5h1v1h-1zM476.5 167.2h1v1h-1zM476.1 161.3h1v1h-1zM477.3 160.2h1v1h-1zM476.8 156.4h1v1h-1zM476.3 155.1h1v1h-1zM476.9 161.4h1v1h-1zM476.2 151.4h1v1h-1zM476.8 154.8h1v1h-1zM476.0 154.0h1v1h-1zM477.4 156.5h1v1h-1zM476.8 153.1h1v1h-1zM477.1 153.6h1v1h-1zM477.4 156.2h1v1h-1zM476.5 162.4h1v1h-1zM476.4 158.5h1v1h-1zM476.6 151.8h1v1h-1zM477.2 159.8h1v1h-1zM475.9 152.6h1v1h-1zM476.3 147.9h1v1h-1zM475.5 161.8h1v1h-1zM477.0 160.0h1v1h-1zM476.4 160.4h1v1h-1zM476.9 161.6h1v1h-1zM476.8 162.7h1v1h-1zM475.4 157.9h1v1h-1zM476.6 158.1h1v1h-1zM477.3 154.2h1v1h-1zM477.1 152.2h1v1h-1zM477.1 159.3h1v1h-1zM477.4 158.6h1v1h-1zM476.5 156.5h1v1h-1zM477.5 157.8h1v1h-1zM476.9 158.3h1v1h-1zM477.5 154.0h1v1h-1zM477.5 155.2h1v1h-1zM477.2 154.0h1v1h-1zM476.1 156.6h1v1h-1zM476.3 159.1h1v1h-1zM477.5 159.2h1v1h-1zM476.8 164.8h1v1h-1zM476.6 151.5h1v1h-1zM477.9 164.9h1v1h-1zM478.3 154.5h1v1h-1zM477.2 159.9h1v1h-1zM477.3 156.1h1v1h-1zM477.6 152.2h1v1h-1zM476.8 166.8h1v1h-1zM477.8 155.4h1v1h-1zM476.8 154.4h1v1h-1zM476.8 157.1h1v1h-1zM476.9 155.3h1v1h-1zM477.3 165.9h1v1h-1zM476.9 149.7h1v1h-1zM476.8 155.3h1v1h-1zM476.6 159.9h1v1h-1zM476.1 154.7h1v1h-1zM476.2 156.1h1v1h-1zM476.8 153.0h1v1h-1zM476.6 157.8h1v1h-1zM477.1 153.2h1v1h-1zM476.7 160.8h1v1h-1zM476.8 153.9h1v1h-1zM477.1 159.8h1v1h-1zM476.8 159.9h1v1h-1zM477.2 155.9h1v1h-1zM476.9 152.2h1v1h-1zM476.8 158.2h1v1h-1zM476.9 153.1h1v1h-1zM476.3 150.5h1v1h-1zM476.6 154.9h1v1h-1zM476.2 159.9h1v1h-1zM478.0 160.2h1v1h-1zM476.6 161.5h1v1h-1zM477.7 150.8h1v1h-1zM477.0 155.3h1v1h-1zM477.1 154.2h1v1h-1zM477.4 156.5h1v1h-1zM476.7 154.2h1v1h-1zM477.1 158.8h1v1h-1zM477.8 154.8h1v1h-1zM477.5 151.1h1v1h-1zM476.7 151.8h1v1h-1zM476.7 163.4h1v1h-1zM477.4 156.7h1v1h-1zM476.8 154.2h1v1h-1zM477.0 154.1h1v1h-1zM476.5 161.3h1v1h-1zM477.8 143.7h1v1h-1zM475.7 154.4h1v1h-1zM476.9 157.2h1v1h-1zM476.3 157.0h1v1h-1zM477.4 159.0h1v1h-1zM477.4 158.4h1v1h-1zM476.0 158.7h1v1h-1zM477.2 155.0h1v1h-1zM477.1 161.9h1v1h-1zM476.4 157.8h1v1h-1zM476.1 160.7h1v1h-1zM477.3 156.6h1v1h-1zM476.3 155.9h1v1h-1zM477.4 154.2h1v1h-1zM476.7 164.4h1v1h-1zM476.7 159.3h1v1h-1zM477.2 163.0h1v1h-1zM476.9 152.6h1v1h-1zM477.1 158.8h1v1h-1zM477.4 150.4h1v1h-1zM476.5 159.1h1v1h-1zM477.2 160.9h1v1h-1zM477.1 154.0h1v1h-1zM477.0 157.1h1v1h-1zM477.0 154.0h1v1h-1zM476.3 147.3h1v1h-1zM477.2 156.9h1v1h-1zM476.5 148.9h1v1h-1zM477.0 159.0h1v1h-1zM475.9 159.9h1v1h-1zM477.1 155.5h1v1h-1zM477.5 149.3h1v1h-1zM477.0 155.7h1v1h-1zM476.0 157.9h1v1h-1zM477.0 159.8h1v1h-1zM476.2 150.2h1v1h-1zM477.6 154.2h1v1h-1z" fill="#000080" fill-opacity="0.55"/>
<path d="M476.5 108.9h1v1h-1zM475.9 104.4h1v1h-1zM476.7 112.5h1v1h-1zM476.6 107.3h1v1h-1zM477.1 112.7h1v1h-1zM477.4 112.9h1v1h-1zM476.5 108.9h1v1h-1zM476.5 113.8h1v1h-1zM476.8 115.3h1v1h-1zM476.4 104.2h1v1h-1zM477.3 106.1h1v1h-1zM476.1 105.2h1v1h-1zM477.0 109.0h1v1h-1zM477.3 103.7h1v1h-1zM476.8 104.9h1v1h-1zM476.3 107.2h1v1h-1zM477.2 108.9h1v1h-1zM476.1 114.1h1v1h-1zM476.6 105.7h1v1h-1zM477.7 111.0h1v1h-1zM477.3 109.1h1v1h-1zM477.1 109.2h1v1h-1zM477.5 110.8h1v1h-1zM476.5 104.9h1v1h-1zM477.4 107.3h1v1h-1zM477.7 110.5h1v1h-1zM476.8 112.8h1v1h-1zM476.5 109.1h1v1h-1zM477.2 104.5h1v1h-1zM478.0 113.5h1v1h-1zM476.9 93.0h1v1h-1zM477.0 107.3h1v1h-1zM476.5 104.9h1v1h-1zM476.4 109.9h1v1h-1zM476.5 103.4h1v1h-1zM476.3 107.0h1v1h-1zM476.2 106.8h1v1h-1zM476.8 112.1h1v1h-1zM476.9 106.1h1v1h-1zM476.7 110.2h1v1h-1zM477.4 111.6h1v1h-1zM477.4 116.9h1v1h-1zM476.7 115.1h1v1h-1zM476.5 106.7h1v1h-1zM477.3 106.9h1v1h-1zM477.3 113.3h1v1h-1zM476.6 104.0h1v1h-1zM478.0 105.6h1v1h-1zM477.5 108.3h1v1h-1zM477.1 115.5h1v1h-1zM477.2 108.4h1v1h-1zM477.1 106.0h1v1h-1zM477.6 108.0h1v1h-1zM476.0 110.3h1v1h-1zM476.8 112.4h1v1h-1zM477.7 108.7h1v1h-1zM476.5 107.9h1v1h-1zM477.9 107.9h1v1h-1zM477.3 105.7h1v1h-1zM476.7 105.3h1v1h-1zM476.7 108.7h1v1h-1zM476.9 110.4h1v1h-1zM477.0 108.6h1v1h-1zM476.9 103.2h1v1h-1zM477.0 109.0h1v1h-1zM477.4 107.5h1v1h-1zM476.1 103.1h1v1h-1zM476.5 112.5h1v1h-1zM477.3 106.5h1v1h-1zM476.6 111.8h1v1h-1zM476.9 103.6h1v1h-1zM476.8 107.7h1v1h-1zM477.4 110.1h1v1h-1zM477.7 109.9h1v1h-1zM475.3 108.9h1v1h-1zM476.9 112.0h1v1h-1zM477.1 109.3h1v1h-1zM477.0 109.8h1v1h-1zM476.8 107.0h1v1h-1zM476.4 109.1h1v1h-1zM475.4 104.8h1v1h-1zM477.1 103.2h1v1h-1zM476.2 113.3h1v1h-1zM476.7 109.1h1v1h-1zM476.9 107.0h1v1h-1zM478.1 107.3h1v1h-1zM475.8 111.6h1v1h-1zM476.3 109.2h1v1h-1zM477.4 111.8h1v1h-1zM476.5 107.2h1v1h-1zM477.3 107.0h1v1h-1zM476.9 114.3h1v1h-1zM477.5 111.6h1v1h-1zM477.1 107.0h1v1h-1zM477.2 104.8h1v1h-1zM476.3 109.6h1v1h-1zM476.9 106.6h1v1h-1zM476.7 111.9h1v1h-1zM477.5 112.6h1v1h-1zM477.2 109.1h1v1h-1zM476.2 115.1h1v1h-1zM477.0 113.5h1v1h-1zM477.1 116.7h1v1h-1zM477.8 109.3h1v1h-1zM477.5 109.4h1v1h-1zM476.5 104.1h1v1h-1zM477.0 110.5h1v1h-1zM476.6 106.2h1v1h-1zM476.6 102.4h1v1h-1zM476.4 110.8h1v1h-1zM476.8 117.8h1v1h-1zM476.3 106.6h1v1h-1zM477.3 112.2h1v1h-1zM476.5 106.0h1v1h-1zM477.1 105.6h1v1h-1zM475.9 106.8h1v1h-1zM477.4 107.6h1v1h-1zM476.3 105.5h1v1h-1zM476.2 111.6h1v1h-1zM477.1 103.8h1v1h-1zM477.8 105.3h1v1h-1zM476.7 105.5h1v1h-1zM476.9 111.1h1v1h-1zM476.8 110.3h1v1h-1zM476.7 117.2h1v1h-1zM477.0 114.7h1v1h-1zM478.0 106.8h1v1h-1zM476.1 112.9h1v1h-1zM476.9 107.5h1v1h-1zM476.9 103.5h1v1h-1zM476.7 108.0h1v1h-1zM477.1 112.4h1v1h-1zM476.4 108.1h1v1h-1zM476.3 107.7h1v1h-1zM477.3 110.5h1v1h-1zM476.2 103.0h1v1h-1zM477.2 119.9h1v1h-1zM477.7 110.2h1v1h-1zM476.4 112.5h1v1h-1zM477.0 105.6h1v1h-1zM476.8 107.4h1v1h-1zM477.0 109.3h1v1h-1zM476.4 108.6h1v1h-1zM476.4 103.3h1v1h-1zM476.6 111.0h1v1h-1zM478.1 109.3h1v1h-1zM477.6 112.2h1v1h-1zM477.2 106.7h1v1h-1zM477.1 107.7h1v1h-1zM477.4 113.1h1v1h-1zM476.4 108.1h1v1h-1zM476.4 114.3h1v1h-1zM476.3 118.3h1v1h-1zM476.8 107.9h1v1h-1zM477.5 106.9h1v1h-1zM476.7 108.8h1v1h-1zM477.0 103.3h1v1h-1zM477.5 113.1h1v1h-1zM476.6 106.6h1v1h-1zM477.0 105.2h1v1h-1zM476.8 111.4h1v1h-1zM476.7 104.6h1v1h-1zM477.1 112.6h1v1h-1zM476.9 101.4h1v1h-1zM477.0 110.1h1v1h-1zM477.2 108.2h1v1h-1zM477.0 109.3h1v1h-1zM476.6 108.9h1v1h-1zM476.7 108.6h1v1h-1zM476.9 106.4h1v1h-1z" fill="#ff0000" fill-opacity="0.55"/>
<path d="M548.1 119.7h1v1h-1zM548.2 125.9h1v1h-1zM547.9 123.3h1v1h-1zM548.0 122.1h1v1h-1zM547.7 126.5h1v1h-1zM547.9 118.8h1v1h-1zM548.1 121.3h1v1h-1zM548.3 119.2h1v1h-1zM548.3 122.7h1v1h-1zM548.1 120.8h1v1h-1zM548.1 120.8h1v1h-1zM548.1 123.5h1v1h-1zM547.9 126.2h1v1h-1zM547.9 124.8h1v1h-1zM548.4 125.2h1v1h-1zM548.5 119.7h1v1h-1zM547.8 122.3h1v1h-1zM548.3 121.2h1v1h-1zM548.8 123.1h1v1h-1zM548.3 117.8h1v1h-1zM547.3 122.5h1v1h-1zM548.4 120.9h1v1h-1zM548.2 125.9h1v1h-1zM547.8 120.5h1v1h-1zM548.1 118.9h1v1h-1zM547.2 121.0h1v1h-1zM548.1 119.8h1v1h-1zM548.4 123.4h1v1h-1zM548.1 122.2h1v1h-1zM547.5 124.8h1v1h-1zM548.0 123.9h1v1h-1zM548.2 122.0h1v1h-1zM548.3 123.3h1v1h-1zM547.6 121.5h1v1h-1zM548.0 124.6h1v1h-1zM547.8 125.1h1v1h-1zM547.4 122.9h1v1h-1zM548.4 125.3h1v1h-1zM548.0 121.9h1v1h-1zM548.8 125.1h1v1h-1zM548.0 122.3h1v1h-1zM547.9 122.9h1v1h-1zM548.6 120.3h1v1h-1zM548.3 123.1h1v1h-1zM547.5 125.3h1v1h-1zM548.0 123.0h1v1h-1zM549.1 121.2h1v1h-1zM548.7 124.4h1v1h-1zM548.3 122.8h1v1h-1zM547.9 128.7h1v1h-1zM548.5 125.2h1v1h-1zM547.4 125.2h1v1h-1zM548.0 124.7h1v1h-1zM547.5 121.1h1v1h-1zM548.0 124.2h1v1h-1zM547.8 124.7h1v1h-1zM547.7 121.2h1v1h-1zM547.8 118.9h1v1h-1zM548.7 124.9h1v1h-1zM548.5 123.2h1v1h-1zM547.5 122.8h1v1h-1zM548.4 125.6h1v1h-1zM547.4 125.4h1v1h-1zM548.6 122.6h1v1h-1zM547.8 123.4h1v1h-1zM548.1 122.5h1v1h-1zM547.7 121.2h1v1h-1zM548.3 124.8h1v1h-1zM548.4 122.6h1v1h-1zM548.1 121.4h1v1h-1zM547.8 122.4h1v1h-1zM548.8 122.7h1v1h-1zM547.7 120.8h1v1h-1zM547.9 117.2h1v1h-1zM547.7 123.6h1v1h-1zM547.9 122.4h1v1h-1zM548.5 124.9h1v1h-1zM547.7 125.5h1v1h-1zM548.4 122.2h1v1h-1zM548.7 125.5h1v1h-1zM548.2 127.5h1v1h-1zM547.6 123.2h1v1h-1zM548.3 125.6h1v1h-1zM548.3 128.9h1v1h-1zM547.9 122.7h1v1h-1zM548.5 125.4h1v1h-1zM547.8 125.8h1v1h-1zM547.6 123.3h1v1h-1zM547.7 120.7h1v1h-1zM548.2 123.4h1v1h-1zM549.2 122.0h1v1h-1zM547.9 123.0h1v1h-1zM548.0 124.0h1v1h-1zM547.9 121.6h1v1h-1zM548.6 124.5h1v1h-1zM547.6 120.6h1v1h-1zM548.3 121.6h1v1h-1zM547.9 121.7h1v1h-1zM548.1 124.9h1v1h-1zM548.5 124.2h1v1h-1zM548.7 123.5h1v1h-1zM548.0 122.8h1v1h-1zM548.2 121.4h1v1h-1zM548.0 122.5h1v1h-1zM548.6 123.5h1v1h-1zM548.4 119.0h1v1h-1zM548.6 123.8h1v1h-1zM548.3 124.1h1v1h-1zM548.2 123.0h1v1h-1zM547.5 126.3h1v1h-1zM548.5 123.5h1v1h-1zM547.7 120.2h1v1h-1zM548.4 123.1h1v1h-1zM548.3 124.9h1v1h-1zM547.3 125.9h1v1h-1zM548.0 125.2h1v1h-1zM548.4 121.8h1v1h-1zM548.2 124.1h1v1h-1zM548.3 121.2h1v1h-1zM547.7 125.9h1v1h-1zM547.7 123.4h1v1h-1zM547.7 123.4h1v1h-1zM548.3 122.0h1v1h-1zM548.6 124.9h1v1h-1zM548.1 120.0h1v1h-1zM547.7 125.1h1v1h-1zM547.4 122.7h1v1h-1zM547.7 119.7h1v1h-1zM547.9 119.2h1v1h-1zM548.6 123.7h1v1h-1zM547.5 122.5h1v1h-1zM548.7 123.5h1v1h-1zM547.6 122.2h1v1h-1zM547.0 121.4h1v1h-1zM547.7 121.3h1v1h-1zM548.1 119.8h1v1h-1zM547.8 124.9h1v1h-1zM547.4 120.6h1v1h-1zM548.2 124.6h1v1h-1zM547.2 124.5h1v1h-1zM548.2 119.6h1v1h-1zM547.6 118.1h1v1h-1zM548.7 128.8h1v1h-1zM547.6 120.9h1v1h-1zM549.0 121.8h1v1h-1zM548.1 124.1h1v1h-1zM547.0 122.5h1v1h-1zM548.3 122.7h1v1h-1zM548.7 122.8h1v1h-1zM548.3 123.4h1v1h-1z" fill="#000080" fill-opacity="0.55"/>
<path d="M547.9 108.9h1v1h-1zM548.0 109.9h1v1h-1zM548.0 108.5h1v1h-1zM547.4 109.0h1v1h-1zM548.2 104.6h1v1h-1zM548.4 110.4h1v1h-1zM548.3 109.4h1v1h-1zM547.5 108.9h1v1h-1zM548.2 110.1h1v1h-1zM547.9 108.3h1v1h-1zM548.5 107.7h1v1h-1zM548.3 108.7h1v1h-1zM547.9 112.0h1v1h-1zM548.5 111.0h1v1h-1zM547.6 109.6h1v1h-1zM547.5 114.1h1v1h-1zM548.2 107.8h1v1h-1zM548.8 108.8h1v1h-1zM548.1 111.7h1v1h-1zM548.6 108.2h1v1h-1zM547.4 108.7h1v1h-1zM547.9 107.8h1v1h-1zM548.3 109.5h1v1h-1zM547.9 106.1h1v1h-1zM548.5 107.1h1v1h-1zM547.7 108.3h1v1h-1zM548.5 109.0h1v1h-1zM548.4 103.8h1v1h-1zM547.9 107.3h1v1h-1zM547.9 108.3h1v1h-1zM548.5 108.4h1v1h-1zM548.7 109.1h1v1h-1zM548.4 108.5h1v1h-1zM547.5 109.6h1v1h-1zM548.3 109.5h1v1h-1zM548.1 105.3h1v1h-1zM548.0 108.7h1v1h-1zM548.5 107.5h1v1h-1zM548.3 107.9h1v1h-1zM548.5 109.0h1v1h-1zM547.9 108.8h1v1h-1zM548.4 108.6h1v1h-1zM547.4 107.4h1v1h-1zM547.9 112.5h1v1h-1zM548.2 108.5h1v1h-1zM548.2 105.2h1v1h-1zM547.8 109.2h1v1h-1zM548.0 107.8h1v1h-1zM547.9 111.1h1v1h-1zM548.0 108.1h1v1h-1zM548.8 107.0h1v1h-1zM548.1 106.4h1v1h-1zM547.7 109.7h1v1h-1zM548.5 109.5h1v1h-1zM548.2 109.9h1v1h-1zM547.9 111.3h1v1h-1zM548.2 109.5h1v1h-1zM548.3 108.1h1v1h-1zM548.0 107.6h1v1h-1zM547.8 105.9h1v1h-1zM548.1 109.6h1v1h-1zM548.6 113.6h1v1h-1zM548.8 109.8h1v1h-1zM548.8 112.2h1v1h-1zM548.7 105.5h1v1h-1zM547.9 106.0h1v1h-1zM547.4 109.5h1v1h-1zM548.3 111.5h1v1h-1zM548.2 108.5h1v1h-1zM547.4 109.2h1v1h-1zM548.4 105.7h1v1h-1zM547.4 107.9h1v1h-1zM547.9 110.6h1v1h-1zM548.5 109.3h1v1h-1zM548.1 105.7h1v1h-1zM547.6 112.8h1v1h-1zM547.4 107.9h1v1h-1zM548.4 106.8h1v1h-1zM547.8 109.6h1v1h-1zM548.4 110.1h1v1h-1zM547.9 110.5h1v1h-1zM548.2 108.7h1v1h-1zM547.8 106.0h1v1h-1zM548.6 105.4h1v1h-1zM548.9 108.7h1v1h-1zM548.5 107.5h1v1h-1zM547.9 108.4h1v1h-1zM547.7 108.1h1v1h-1zM548.6 106.1h1v1h-1zM548.6 107.5h1v1h-1zM548.1 107.7h1v1h-1zM547.8 109.2h1v1h-1zM547.9 107.5h1v1h-1zM548.4 110.4h1v1h-1zM547.5 108.9h1v1h-1zM547.8 109.6h1v1h-1zM547.9 112.2h1v1h-1zM547.8 106.7h1v1h-1zM548.4 107.8h1v1h-1zM547.6 106.3h1v1h-1zM548.1 110.2h1v1h-1zM548.8 105.9h1v1h-1zM547.8 108.7h1v1h-1zM547.7 108.8h1v1h-1zM547.7 105.2h1v1h-1zM549.1 105.4h1v1h-1zM549.8 107.3h1v1h-1zM547.6 107.8h1v1h-1zM548.3 106.7h1v1h-1zM548.8 108.7h1v1h-1zM548.5 109.8h1v1h-1zM547.4 109.2h1v1h-1zM548.6 109.2h1v1h-1zM548.1 108.0h1v1h-1zM548.4 109.5h1v1h-1zM548.3 108.5h1v1h-1zM547.7 112.8h1v1h-1zM548.3 109.6h1v1h-1zM548.1 109.9h1v1h-1zM547.9 114.3h1v1h-1zM548.8 106.6h1v1h-1zM547.4 114.1h1v1h-1zM547.4 109.3h1v1h-1zM547.6 105.1h1v1h-1zM548.2 110.1h1v1h-1zM547.6 107.6h1v1h-1zM547.8 108.5h1v1h-1zM548.1 108.6h1v1h-1zM548.5 103.6h1v1h-1zM548.4 107.8h1v1h-1zM547.4 106.8h1v1h-1zM548.0 109.5h1v1h-1zM548.6 106.1h1v1h-1zM548.0 113.8h1v1h-1zM547.3 108.2h1v1h-1zM547.3 107.0h1v1h-1zM548.2 108.7h1v1h-1zM547.8 109.1h1v1h-1zM547.8 108.4h1v1h-1zM547.6 107.1h1v1h-1zM547.9 109.3h1v1h-1zM548.0 109.7h1v1h-1zM547.8 102.7h1v1h-1zM548.3 107.4h1v1h-1zM549.0 105.9h1v1h-1zM548.0 108.6h1v1h-1zM548.0 110.6h1v1h-1zM548.2 107.9h1v1h-1zM548.1 103.6h1v1h-1zM548.4 109.0h1v1h-1z" fill="#ff0000" fill-opacity="0.55"/>
<path d="M603.8 85.4h1v1h-1zM604.4 82.4h1v1h-1zM604.5 85.1h1v1h-1zM603.1 85.0h1v1h-1zM603.9 83.1h1v1h-1zM603.6 82.5h1v1h-1zM603.7 81.8h1v1h-1zM604.0 85.3h1v1h-1zM603.7 86.3h1v1h-1zM603.6 88.8h1v1h-1zM603.3 84.7h1v1h-1zM603.8 81.0h1v1h-1zM603.6 83.6h1v1h-1zM604.1 82.6h1v1h-1zM604.2 85.5h1v1h-1zM603.7 86.6h1v1h-1zM603.6 87.5h1v1h-1zM603.8 83.4h1v1h-1zM604.0 86.2h1v1h-1zM604.0 80.4h1v1h-1zM604.0 85.3h1v1h-1zM603.8 82.1h1v1h-1zM604.2 82.7h1v1h-1zM604.0 86.6h1v1h-1zM603.6 83.2h1v1h-1zM603.6 89.1h1v1h-1zM603.8 83.5h1v1h-1zM604.2 85.6h1v1h-1zM604.7 84.5h1v1h-1zM603.8 85.1h1v1h-1zM604.3 83.9h1v1h-1zM603.2 79.4h1v1h-1zM604.3 83.0h1v1h-1zM604.8 84.4h1v1h-1zM604.1 86.6h1v1h-1zM603.1 87.8h1v1h-1zM603.8 82.6h1v1h-1zM604.1 81.9h1v1h-1zM603.7 87.7h1v1h-1zM603.5 83.4h1v1h-1zM603.6 85.6h1v1h-1zM603.4 83.7h1v1h-1zM604.1 81.2h1v1h-1zM603.1 82.3h1v1h-1zM603.9 82.2h1v1h-1zM603.6 84.2h1v1h-1zM604.4 84.4h1v1h-1zM604.1 84.4h1v1h-1zM603.4 81.9h1v1h-1zM603.2 82.0h1v1h-1zM604.1 82.7h1v1h-1zM602.8 84.9h1v1h-1zM604.2 90.3h1v1h-1zM604.3 86.3h1v1h-1zM604.4 85.7h1v1h-1zM603.7 82.9h1v1h-1zM603.1 85.5h1v1h-1zM603.4 86.2h1v1h-1zM603.9 85.6h1v1h-1zM603.5 84.3h1v1h-1zM604.3 84.0h1v1h-1zM603.8 85.7h1v1h-1zM603.5 83.8h1v1h-1zM604.5 87.2h1v1h-1zM603.6 83.7h1v1h-1zM604.2 88.1h1v1h-1zM603.7 83.4h1v1h-1zM604.1 80.0h1v1h-1zM605.1 85.2h1v1h-1zM603.9 86.0h1v1h-1zM603.7 83.2h1v1h-1zM603.9 83.0h1v1h-1zM603.7 82.7h1v1h-1zM603.3 84.7h1v1h-1zM603.7 85.5h1v1h-1zM604.0 83.4h1v1h-1zM603.5 85.7h1v1h-1zM603.6 84.1h1v1h-1zM604.2 86.1h1v1h-1zM603.0 88.7h1v1h-1zM604.0 82.5h1v1h-1zM603.6 86.6h1v1h-1zM604.0 87.2h1v1h-1zM603.4 86.4h1v1h-1zM603.3 85.0h1v1h-1zM603.8 83.5h1v1h-1zM603.0 88.0h1v1h-1zM603.7 84.9h1v1h-1zM604.3 84.2h1v1h-1zM603.7 83.2h1v1h-1zM603.5 83.6h1v1h-1zM604.2 84.9h1v1h-1zM603.8 82.1h1v1h-1zM604.2 84.6h1v1h-1zM603.8 87.1h1v1h-1zM603.5 83.0h1v1h-1zM603.8 86.2h1v1h-1zM604.0 85.7h1v1h-1zM603.4 84.6h1v1h-1zM604.1 85.8h1v1h-1zM603.6 82.0h1v1h-1zM603.4 86.6h1v1h-1zM603.7 83.1h1v1h-1zM603.8 85.1h1v1h-1zM604.1 84.3h1v1h-1zM603.6 83.9h1v1h-1zM603.7 85.5h1v1h-1zM603.2 82.1h1v1h-1zM603.8 83.1h1v1h-1zM603.5 86.6h1v1h-1zM604.0 79.4h1v1h-1zM603.8 82.5h1v1h-1zM603.7 87.1h1v1h-1zM603.7 83.1h1v1h-1zM604.8 84.1h1v1h-1zM603.5 85.4h1v1h-1zM603.6 81.6h1v1h-1zM603.6 86.7h1v1h-1zM604.2 83.6h1v1h-1zM603.9 83.6h1v1h-1zM603.9 84.5h1v1h-1zM604.3 89.6h1v1h-1zM604.4 84.5h1v1h-1zM603.4 84.6h1v1h-1zM603.8 85.7h1v1h-1zM603.5 84.0h1v1h-1zM604.2 82.7h1v1h-1zM603.6 82.5h1v1h-1zM604.4 84.7h1v1h-1zM603.4 86.1h1v1h-1zM603.6 87.2h1v1h-1zM603.7 86.9h1v1h-1zM603.2 85.2h1v1h-1zM603.5 84.1h1v1h-1zM603.8 87.4h1v1h-1zM602.6 84.2h1v1h-1zM604.0 86.6h1v1h-1zM604.4 89.1h1v1h-1zM604.0 85.9h1v1h-1zM603.7 84.4h1v1h-1zM604.6 86.0h1v1h-1zM603.8 86.4h1v1h-1zM603.3 87.6h1v1h-1zM603.8 91.1h1v1h-1zM603.2 83.2h1v1h-1zM604.0 85.7h1v1h-1zM604.1 86.6h1v1h-1zM603.9 83.5h1v1h-1zM604.4 82.0h1v1h-1zM603.1 86.2h1v1h-1z" fill="#000080" fill-opacity="0.55"/>
<path d="M603.7 82.6h1v1h-1zM603.6 84.9h1v1h-1zM604.2 88.8h1v1h-1zM603.6 83.5h1v1h-1zM603.9 81.6h1v1h-1zM604.5 85.4h1v1h-1zM603.1 83.9h1v1h-1zM603.7 82.9h1v1h-1zM604.1 80.5h1v1h-1zM603.9 83.5h1v1h-1zM603.9 84.0h1v1h-1zM604.4 82.0h1v1h-1zM603.8 84.5h1v1h-1zM604.1 82.9h1v1h-1zM603.9 83.7h1v1h-1zM603.2 83.0h1v1h-1zM604.6 83.9h1v1h-1zM603.8 82.9h1v1h-1zM603.6 84.8h1v1h-1zM603.5 85.1h1v1h-1zM603.7 82.0h1v1h-1zM603.4 82.7h1v1h-1zM604.3 87.4h1v1h-1zM603.3 83.3h1v1h-1zM604.0 87.0h1v1h-1zM604.2 81.0h1v1h-1zM603.8 80.3h1v1h-1zM604.2 85.1h1v1h-1zM604.2 85.2h1v1h-1zM603.9 88.2h1v1h-1zM604.3 82.6h1v1h-1zM604.1 83.8h1v1h-1zM602.9 87.1h1v1h-1zM603.2 82.8h1v1h-1zM604.0 84.6h1v1h-1zM603.9 86.5h1v1h-1zM603.5 85.5h1v1h-1zM604.0 85.3h1v1h-1zM603.9 82.3h1v1h-1zM604.5 82.4h1v1h-1zM604.1 84.2h1v1h-1zM603.5 85.4h1v1h-1zM604.5 82.1h1v1h-1zM603.5 88.0h1v1h-1zM604.5 87.7h1v1h-1zM603.4 83.9h1v1h-1zM603.5 83.4h1v1h-1zM604.4 85.3h1v1h-1zM603.9 84.9h1v1h-1zM603.0 84.3h1v1h-1zM604.1 84.7h1v1h-1zM604.1 83.6h1v1h-1zM603.8 86.6h1v1h-1zM604.1 83.5h1v1h-1zM603.5 85.9h1v1h-1zM603.8 84.9h1v1h-1zM603.2 82.5h1v1h-1zM603.8 80.5h1v1h-1zM603.6 85.9h1v1h-1zM603.5 79.3h1v1h-1zM603.7 85.3h1v1h-1zM604.3 82.9h1v1h-1zM603.5 81.6h1v1h-1zM604.4 85.3h1v1h-1zM603.9 83.4h1v1h-1zM603.7 87.4h1v1h-1zM604.0 84.9h1v1h-1zM604.0 85.0h1v1h-1zM603.9 83.5h1v1h-1zM603.6 85.5h1v1h-1zM603.9 82.8h1v1h-1zM604.5 84.9h1v1h-1zM603.0 80.2h1v1h-1zM603.7 81.4h1v1h-1zM603.9 83.4h1v1h-1zM603.2 84.7h1v1h-1zM603.7 84.1h1v1h-1zM604.1 84.4h1v1h-1zM603.3 82.4h1v1h-1zM603.8 83.2h1v1h-1zM603.9 84.5h1v1h-1zM604.0 83.7h1v1h-1zM604.2 82.4h1v1h-1zM604.3 85.0h1v1h-1zM603.9 81.0h1v1h-1zM604.4 83.3h1v1h-1zM603.8 82.1h1v1h-1zM603.0 88.5h1v1h-1zM603.2 85.1h1v1h-1zM604.1 84.4h1v1h-1zM603.8 83.5h1v1h-1zM604.1 85.1h1v1h-1zM604.6 85.4h1v1h-1zM603.4 84.3h1v1h-1zM603.1 83.1h1v1h-1zM603.6 83.6h1v1h-1zM603.5 84.1h1v1h-1zM604.2 85.2h1v1h-1zM604.8 81.6h1v1h-1zM603.8 83.6h1v1h-1zM604.2 85.3h1v1h-1zM604.0 84.2h1v1h-1zM603.5 82.9h1v1h-1zM604.4 83.7h1v1h-1zM604.0 84.4h1v1h-1zM604.5 83.3h1v1h-1zM603.9 84.3h1v1h-1zM603.8 83.5h1v1h-1zM603.6 83.3h1v1h-1zM603.8 86.6h1v1h-1zM605.0 85.4h1v1h-1zM604.4 85.4h1v1h-1zM603.0 82.9h1v1h-1zM603.8 84.7h1v1h-1zM603.5 84.9h1v1h-1zM603.6 84.3h1v1h-1zM603.8 85.8h1v1h-1zM604.3 84.3h1v1h-1zM603.7 84.8h1v1h-1zM604.6 81.1h1v1h-1zM603.8 81.8h1v1h-1zM603.9 83.2h1v1h-1zM603.4 82.3h1v1h-1zM604.0 80.5h1v1h-1zM604.3 82.8h1v1h-1zM603.8 87.9h1v1h-1zM603.4 83.6h1v1h-1zM603.4 85.5h1v1h-1zM603.5 83.4h1v1h-1zM604.3 84.6h1v1h-1zM603.5 85.0h1v1h-1zM603.9 83.3h1v1h-1zM603.8 82.0h1v1h-1zM604.3 84.6h1v1h-1zM604.4 84.8h1v1h-1zM603.5 87.0h1v1h-1zM604.1 86.1h1v1h-1zM604.0 83.8h1v1h-1zM603.5 83.0h1v1h-1zM603.8 85.6h1v1h-1zM604.9 84.1h1v1h-1zM603.8 82.9h1v1h-1zM603.8 84.8h1v1h-1zM604.0 85.0h1v1h-1zM603.7 84.7h1v1h-1zM603.8 83.5h1v1h-1zM604.0 85.0h1v1h-1zM603.8 85.3h1v1h-1zM604.1 83.4h1v1h-1zM604.4 83.1h1v1h-1z" fill="#ff0000" fill-opacity="0.55"/>
<polyline points="137.70,118.79 209.50,110.97 266.60,97.68" fill="none" stroke="#ff0000" stroke-width="1.0" stroke-opacity="0.72" stroke-linejoin="round" />
<polyline points="137.70,151.63 209.50,123.48 266.60,97.29" fill="none" stroke="#000080" stroke-width="1.0" stroke-opacity="0.72" stroke-linejoin="round" />
<circle cx="137.70" cy="118.79" r="1.1" fill="#ff0000" fill-opacity="0.8"/>
<circle cx="209.50" cy="110.97" r="1.1" fill="#ff0000" fill-opacity="0.8"/>
<circle cx="266.60" cy="97.68" r="1.1" fill="#ff0000" fill-opacity="0.8"/>
<circle cx="137.70" cy="151.63" r="1.1" fill="#000080" fill-opacity="0.8"/>
<circle cx="209.50" cy="123.48" r="1.1" fill="#000080" fill-opacity="0.8"/>
<circle cx="266.60" cy="97.29" r="1.1" fill="#000080" fill-opacity="0.8"/>
<polyline points="477.40,109.31 548.60,108.88 604.30,84.43" fill="none" stroke="#ff0000" stroke-width="1.0" stroke-opacity="0.72" stroke-linejoin="round" />
<polyline points="477.40,156.06 548.60,123.46 604.30,85.29" fill="none" stroke="#000080" stroke-width="1.0" stroke-opacity="0.72" stroke-linejoin="round" />
<circle cx="477.40" cy="109.31" r="1.1" fill="#ff0000" fill-opacity="0.8"/>
<circle cx="548.60" cy="108.88" r="1.1" fill="#ff0000" fill-opacity="0.8"/>
<circle cx="604.30" cy="84.43" r="1.1" fill="#ff0000" fill-opacity="0.8"/>
<circle cx="477.40" cy="156.06" r="1.1" fill="#000080" fill-opacity="0.8"/>
<circle cx="548.60" cy="123.46" r="1.1" fill="#000080" fill-opacity="0.8"/>
<circle cx="604.30" cy="85.29" r="1.1" fill="#000080" fill-opacity="0.8"/>
<rect x="49.3" y="166.6" width="79.40" height="60.20" fill="#fff"/>
<path d="M60.10 226.80V226.20h2.60V226.80zM62.70 226.80V220.00h2.60V226.80zM65.30 226.80V221.40h2.60V226.80zM67.90 226.80V220.00h2.60V226.80zM70.50 226.80V205.30h2.60V226.80zM73.10 226.80V207.30h2.60V226.80zM75.70 226.80V200.00h2.60V226.80zM78.30 226.80V198.20h2.60V226.80zM80.90 226.80V204.10h2.60V226.80zM83.50 226.80V208.20h2.60V226.80zM86.10 226.80V206.20h2.60V226.80zM88.70 226.80V216.20h2.60V226.80zM91.30 226.80V223.00h2.60V226.80zM93.90 226.80V224.30h2.60V226.80zM96.50 226.80V225.30h2.60V226.80zM99.10 226.80V226.00h2.60V226.80z" fill="#000080" fill-opacity="0.7"/>
<path d="M86.50 226.80V222.60h2.60V226.80zM89.10 226.80V222.00h2.60V226.80zM91.70 226.80V216.50h2.60V226.80zM94.30 226.80V212.80h2.60V226.80zM96.90 226.80V195.60h2.60V226.80zM99.50 226.80V181.90h2.60V226.80zM102.10 226.80V193.20h2.60V226.80zM104.70 226.80V207.30h2.60V226.80zM107.30 226.80V208.90h2.60V226.80zM109.90 226.80V211.00h2.60V226.80zM112.50 226.80V222.00h2.60V226.80zM115.10 226.80V225.70h2.60V226.80z" fill="#ff0000" fill-opacity="0.7"/>
<rect x="49.3" y="166.6" width="79.40" height="60.20" fill="none" stroke="#5a5a5a" stroke-width="0.9"/>
<text x="49.30" y="233.20" font-size="6.0" text-anchor="middle" fill="#141414" stroke="#141414" stroke-width="0.12" style="" >−0.4</text>
<text x="75.77" y="233.20" font-size="6.0" text-anchor="middle" fill="#141414" stroke="#141414" stroke-width="0.12" style="" >−0.3</text>
<text x="102.23" y="233.20" font-size="6.0" text-anchor="middle" fill="#141414" stroke="#141414" stroke-width="0.12" style="" >−0.2</text>
<text x="128.70" y="233.20" font-size="6.0" text-anchor="middle" fill="#141414" stroke="#141414" stroke-width="0.12" style="" >−0.1</text>
<text x="126.10" y="176.00" font-size="6.4" text-anchor="end" fill="#141414" stroke="#141414" stroke-width="0.15" style="" textLength="38.90" lengthAdjust="spacingAndGlyphs" >−0.201 ± 0.022</text>
<text x="53.90" y="185.40" font-size="6.4" text-anchor="start" fill="#141414" stroke="#141414" stroke-width="0.15" style="" textLength="38.90" lengthAdjust="spacingAndGlyphs" >−0.285 ± 0.029</text>
<rect x="142.3" y="166.6" width="79.10" height="60.20" fill="#fff"/>
<path d="M159.10 226.80V225.90h2.93V226.80zM162.03 226.80V224.40h2.93V226.80zM164.96 226.80V220.30h2.93V226.80zM167.89 226.80V214.70h2.93V226.80zM170.82 226.80V210.90h2.93V226.80zM173.75 226.80V199.70h2.93V226.80zM176.68 226.80V204.50h2.93V226.80zM179.61 226.80V208.50h2.93V226.80zM182.54 226.80V211.50h2.93V226.80zM185.47 226.80V221.20h2.93V226.80zM188.40 226.80V223.60h2.93V226.80zM191.33 226.80V225.60h2.93V226.80zM194.26 226.80V226.30h2.93V226.80z" fill="#000080" fill-opacity="0.7"/>
<path d="M176.68 226.80V225.90h2.93V226.80zM179.61 226.80V220.70h2.93V226.80zM182.54 226.80V212.00h2.93V226.80zM185.47 226.80V190.40h2.93V226.80zM188.40 226.80V195.80h2.93V226.80zM191.33 226.80V203.10h2.93V226.80zM194.26 226.80V212.70h2.93V226.80zM197.19 226.80V224.10h2.93V226.80zM200.12 226.80V225.90h2.93V226.80z" fill="#ff0000" fill-opacity="0.7"/>
<rect x="142.3" y="166.6" width="79.10" height="60.20" fill="none" stroke="#5a5a5a" stroke-width="0.9"/>
<text x="142.30" y="233.20" font-size="6.0" text-anchor="middle" fill="#141414" stroke="#141414" stroke-width="0.12" style="" >−0.30</text>
<text x="162.08" y="233.20" font-size="6.0" text-anchor="middle" fill="#141414" stroke="#141414" stroke-width="0.12" style="" >−0.25</text>
<text x="181.85" y="233.20" font-size="6.0" text-anchor="middle" fill="#141414" stroke="#141414" stroke-width="0.12" style="" >−0.20</text>
<text x="201.62" y="233.20" font-size="6.0" text-anchor="middle" fill="#141414" stroke="#141414" stroke-width="0.12" style="" >−0.15</text>
<text x="221.40" y="233.20" font-size="6.0" text-anchor="middle" fill="#141414" stroke="#141414" stroke-width="0.12" style="" >−0.10</text>
<text x="218.80" y="176.00" font-size="6.4" text-anchor="end" fill="#141414" stroke="#141414" stroke-width="0.15" style="" textLength="38.90" lengthAdjust="spacingAndGlyphs" >−0.181 ± 0.011</text>
<text x="146.90" y="185.40" font-size="6.4" text-anchor="start" fill="#141414" stroke="#141414" stroke-width="0.15" style="" textLength="38.90" lengthAdjust="spacingAndGlyphs" >−0.213 ± 0.015</text>
<rect x="235.4" y="166.6" width="79.10" height="60.20" fill="#fff"/>
<path d="M261.90 226.80V226.00h2.93V226.80zM264.83 226.80V224.00h2.93V226.80zM267.76 226.80V217.70h2.93V226.80zM270.69 226.80V206.00h2.93V226.80zM273.62 226.80V195.70h2.93V226.80zM276.55 226.80V204.00h2.93V226.80zM279.48 226.80V204.00h2.93V226.80zM282.41 226.80V217.70h2.93V226.80zM285.34 226.80V225.50h2.93V226.80zM288.27 226.80V226.00h2.93V226.80z" fill="#000080" fill-opacity="0.7"/>
<path d="M264.83 226.80V223.50h2.93V226.80zM267.76 226.80V216.70h2.93V226.80zM270.69 226.80V205.00h2.93V226.80zM273.62 226.80V193.30h2.93V226.80zM276.55 226.80V192.00h2.93V226.80zM279.48 226.80V216.30h2.93V226.80zM282.41 226.80V223.10h2.93V226.80zM285.34 226.80V226.00h2.93V226.80z" fill="#ff0000" fill-opacity="0.7"/>
<rect x="235.4" y="166.6" width="79.10" height="60.20" fill="none" stroke="#5a5a5a" stroke-width="0.9"/>
<text x="235.40" y="233.20" font-size="6.0" text-anchor="middle" fill="#141414" stroke="#141414" stroke-width="0.12" style="" >−0.25</text>
<text x="255.18" y="233.20" font-size="6.0" text-anchor="middle" fill="#141414" stroke="#141414" stroke-width="0.12" style="" >−0.20</text>
<text x="274.95" y="233.20" font-size="6.0" text-anchor="middle" fill="#141414" stroke="#141414" stroke-width="0.12" style="" >−0.15</text>
<text x="294.73" y="233.20" font-size="6.0" text-anchor="middle" fill="#141414" stroke="#141414" stroke-width="0.12" style="" >−0.10</text>
<text x="314.50" y="233.20" font-size="6.0" text-anchor="middle" fill="#141414" stroke="#141414" stroke-width="0.12" style="" >−0.05</text>
<text x="311.90" y="176.00" font-size="6.4" text-anchor="end" fill="#141414" stroke="#141414" stroke-width="0.15" style="" textLength="38.90" lengthAdjust="spacingAndGlyphs" >−0.147 ± 0.010</text>
<text x="240.00" y="185.40" font-size="6.4" text-anchor="start" fill="#141414" stroke="#141414" stroke-width="0.15" style="" textLength="38.90" lengthAdjust="spacingAndGlyphs" >−0.146 ± 0.011</text>
<rect x="389.1" y="166.6" width="79.10" height="60.20" fill="#fff"/>
<path d="M398.70 226.80V225.10h1.58V226.80zM400.28 226.80V226.00h1.58V226.80zM401.86 226.80V224.10h1.58V226.80zM403.44 226.80V219.20h1.58V226.80zM405.02 226.80V215.30h1.58V226.80zM406.60 226.80V201.10h1.58V226.80zM408.18 226.80V200.20h1.58V226.80zM409.76 226.80V199.50h1.58V226.80zM411.34 226.80V203.10h1.58V226.80zM412.92 226.80V205.00h1.58V226.80zM414.50 226.80V201.10h1.58V226.80zM416.08 226.80V211.40h1.58V226.80zM417.66 226.80V222.10h1.58V226.80zM419.24 226.80V225.60h1.58V226.80z" fill="#000080" fill-opacity="0.7"/>
<path d="M444.40 226.80V224.10h1.65V226.80zM446.05 226.80V222.10h1.65V226.80zM447.70 226.80V218.20h1.65V226.80zM449.35 226.80V207.30h1.65V226.80zM451.00 226.80V198.20h1.65V226.80zM452.65 226.80V191.10h1.65V226.80zM454.30 226.80V191.80h1.65V226.80zM455.95 226.80V203.10h1.65V226.80zM457.60 226.80V206.00h1.65V226.80zM459.25 226.80V219.00h1.65V226.80zM460.90 226.80V219.20h1.65V226.80zM462.55 226.80V225.90h1.65V226.80z" fill="#ff0000" fill-opacity="0.7"/>
<rect x="389.1" y="166.6" width="79.10" height="60.20" fill="none" stroke="#5a5a5a" stroke-width="0.9"/>
<text x="389.10" y="233.20" font-size="6.0" text-anchor="middle" fill="#141414" stroke="#141414" stroke-width="0.12" style="" >−0.32</text>
<text x="408.88" y="233.20" font-size="6.0" text-anchor="middle" fill="#141414" stroke="#141414" stroke-width="0.12" style="" >−0.27</text>
<text x="428.65" y="233.20" font-size="6.0" text-anchor="middle" fill="#141414" stroke="#141414" stroke-width="0.12" style="" >−0.22</text>
<text x="448.43" y="233.20" font-size="6.0" text-anchor="middle" fill="#141414" stroke="#141414" stroke-width="0.12" style="" >−0.17</text>
<text x="468.20" y="233.20" font-size="6.0" text-anchor="middle" fill="#141414" stroke="#141414" stroke-width="0.12" style="" >−0.12</text>
<text x="465.60" y="176.00" font-size="6.4" text-anchor="end" fill="#141414" stroke="#141414" stroke-width="0.15" style="" textLength="38.90" lengthAdjust="spacingAndGlyphs" >−0.156 ± 0.009</text>
<text x="393.70" y="185.40" font-size="6.4" text-anchor="start" fill="#141414" stroke="#141414" stroke-width="0.15" style="" textLength="38.90" lengthAdjust="spacingAndGlyphs" >−0.265 ± 0.010</text>
<rect x="482.3" y="166.6" width="78.70" height="60.20" fill="#fff"/>
<path d="M495.90 226.80V226.00h2.00V226.80zM497.90 226.80V226.00h2.00V226.80zM499.90 226.80V226.00h2.00V226.80zM501.90 226.80V219.20h2.00V226.80zM503.90 226.80V215.30h2.00V226.80zM505.90 226.80V208.30h2.00V226.80zM507.90 226.80V206.30h2.00V226.80zM509.90 226.80V206.00h2.00V226.80zM511.90 226.80V202.40h2.00V226.80zM513.90 226.80V195.30h2.00V226.80zM515.90 226.80V201.10h2.00V226.80zM517.90 226.80V209.30h2.00V226.80zM519.90 226.80V220.20h2.00V226.80zM521.90 226.80V222.20h2.00V226.80zM523.90 226.80V225.60h2.00V226.80zM527.90 226.80V226.00h2.00V226.80z" fill="#000080" fill-opacity="0.7"/>
<path d="M535.50 226.80V219.10h1.97V226.80zM537.47 226.80V222.60h1.97V226.80zM539.44 226.80V216.00h1.97V226.80zM541.41 226.80V200.20h1.97V226.80zM543.38 226.80V194.20h1.97V226.80zM545.35 226.80V184.90h1.97V226.80zM547.32 226.80V202.40h1.97V226.80zM549.29 226.80V206.20h1.97V226.80zM551.26 226.80V212.20h1.97V226.80zM553.23 226.80V222.60h1.97V226.80zM555.20 226.80V220.20h1.97V226.80zM557.17 226.80V225.90h1.97V226.80z" fill="#ff0000" fill-opacity="0.7"/>
<rect x="482.3" y="166.6" width="78.70" height="60.20" fill="none" stroke="#5a5a5a" stroke-width="0.9"/>
<text x="482.30" y="233.20" font-size="6.0" text-anchor="middle" fill="#141414" stroke="#141414" stroke-width="0.12" style="" >−0.22</text>
<text x="501.98" y="233.20" font-size="6.0" text-anchor="middle" fill="#141414" stroke="#141414" stroke-width="0.12" style="" >−0.20</text>
<text x="521.65" y="233.20" font-size="6.0" text-anchor="middle" fill="#141414" stroke="#141414" stroke-width="0.12" style="" >−0.18</text>
<text x="541.33" y="233.20" font-size="6.0" text-anchor="middle" fill="#141414" stroke="#141414" stroke-width="0.12" style="" >−0.16</text>
<text x="561.00" y="233.20" font-size="6.0" text-anchor="middle" fill="#141414" stroke="#141414" stroke-width="0.12" style="" >−0.14</text>
<text x="558.40" y="176.00" font-size="6.4" text-anchor="end" fill="#141414" stroke="#141414" stroke-width="0.15" style="" textLength="38.90" lengthAdjust="spacingAndGlyphs" >−0.155 ± 0.005</text>
<text x="486.90" y="185.40" font-size="6.4" text-anchor="start" fill="#141414" stroke="#141414" stroke-width="0.15" style="" textLength="38.90" lengthAdjust="spacingAndGlyphs" >−0.189 ± 0.005</text>
<rect x="575.0" y="166.6" width="79.50" height="60.20" fill="#fff"/>
<path d="M621.00 226.80V226.00h1.85V226.80zM622.85 226.80V223.00h1.85V226.80zM624.70 226.80V222.50h1.85V226.80zM626.55 226.80V217.00h1.85V226.80zM628.40 226.80V213.20h1.85V226.80zM630.25 226.80V200.70h1.85V226.80zM632.10 226.80V196.90h1.85V226.80zM633.95 226.80V197.40h1.85V226.80zM635.80 226.80V197.40h1.85V226.80zM637.65 226.80V198.00h1.85V226.80zM639.50 226.80V209.40h1.85V226.80zM641.35 226.80V217.60h1.85V226.80zM643.20 226.80V222.50h1.85V226.80zM645.05 226.80V225.50h1.85V226.80zM646.90 226.80V226.50h1.85V226.80z" fill="#000080" fill-opacity="0.7"/>
<path d="M622.85 226.80V224.50h1.85V226.80zM624.70 226.80V223.60h1.85V226.80zM626.55 226.80V222.00h1.85V226.80zM628.40 226.80V218.70h1.85V226.80zM630.25 226.80V209.40h1.85V226.80zM632.10 226.80V204.00h1.85V226.80zM633.95 226.80V196.90h1.85V226.80zM635.80 226.80V190.00h1.85V226.80zM637.65 226.80V193.60h1.85V226.80zM639.50 226.80V205.10h1.85V226.80zM641.35 226.80V211.60h1.85V226.80zM643.20 226.80V221.40h1.85V226.80zM645.05 226.80V224.10h1.85V226.80zM646.90 226.80V225.80h1.85V226.80z" fill="#ff0000" fill-opacity="0.7"/>
<rect x="575.0" y="166.6" width="79.50" height="60.20" fill="none" stroke="#5a5a5a" stroke-width="0.9"/>
<text x="575.00" y="233.20" font-size="6.0" text-anchor="middle" fill="#141414" stroke="#141414" stroke-width="0.12" style="" >−0.16</text>
<text x="594.88" y="233.20" font-size="6.0" text-anchor="middle" fill="#141414" stroke="#141414" stroke-width="0.12" style="" >−0.14</text>
<text x="614.75" y="233.20" font-size="6.0" text-anchor="middle" fill="#141414" stroke="#141414" stroke-width="0.12" style="" >−0.12</text>
<text x="634.62" y="233.20" font-size="6.0" text-anchor="middle" fill="#141414" stroke="#141414" stroke-width="0.12" style="" >−0.10</text>
<text x="654.50" y="233.20" font-size="6.0" text-anchor="middle" fill="#141414" stroke="#141414" stroke-width="0.12" style="" >−0.08</text>
<text x="651.90" y="176.00" font-size="6.4" text-anchor="end" fill="#141414" stroke="#141414" stroke-width="0.15" style="" textLength="38.90" lengthAdjust="spacingAndGlyphs" >−0.098 ± 0.004</text>
<text x="579.60" y="185.40" font-size="6.4" text-anchor="start" fill="#141414" stroke="#141414" stroke-width="0.15" style="" textLength="38.90" lengthAdjust="spacingAndGlyphs" >−0.100 ± 0.005</text>
<line x1="40.5" y1="363.80" x2="323.0" y2="363.80" stroke="#2a2a2a" stroke-width="1.2" stroke-dasharray="2.8 1.5"/>
<path d="M137.5 318.8h1v1h-1zM137.9 313.7h1v1h-1zM137.0 342.9h1v1h-1zM135.8 328.7h1v1h-1zM139.0 313.1h1v1h-1zM139.7 333.6h1v1h-1zM138.5 326.1h1v1h-1zM137.0 317.3h1v1h-1zM138.6 322.2h1v1h-1zM138.1 340.3h1v1h-1zM137.6 360.3h1v1h-1zM138.4 303.5h1v1h-1zM137.0 315.5h1v1h-1zM138.6 340.1h1v1h-1zM136.1 301.5h1v1h-1zM135.9 333.3h1v1h-1zM137.5 371.4h1v1h-1zM137.5 333.7h1v1h-1zM137.4 305.6h1v1h-1zM138.0 324.3h1v1h-1zM139.1 315.4h1v1h-1zM137.1 331.3h1v1h-1zM138.1 329.7h1v1h-1zM138.7 310.1h1v1h-1zM135.7 324.9h1v1h-1zM137.4 327.3h1v1h-1zM137.0 332.5h1v1h-1zM135.3 320.3h1v1h-1zM137.5 319.5h1v1h-1zM138.3 299.1h1v1h-1zM136.6 312.2h1v1h-1zM135.9 293.8h1v1h-1zM136.9 319.1h1v1h-1zM136.8 316.7h1v1h-1zM136.8 329.0h1v1h-1zM135.1 286.0h1v1h-1zM138.6 301.9h1v1h-1zM136.7 328.0h1v1h-1zM135.8 328.6h1v1h-1zM134.8 299.1h1v1h-1zM136.7 302.2h1v1h-1zM137.8 303.4h1v1h-1zM136.6 310.9h1v1h-1zM137.6 350.4h1v1h-1zM135.9 333.3h1v1h-1zM137.6 325.0h1v1h-1zM137.0 339.6h1v1h-1zM137.3 333.5h1v1h-1zM136.6 296.8h1v1h-1zM139.1 352.8h1v1h-1zM137.3 311.7h1v1h-1zM137.9 322.1h1v1h-1zM137.9 317.9h1v1h-1zM138.1 342.0h1v1h-1zM137.3 312.3h1v1h-1zM137.3 352.9h1v1h-1zM138.3 315.1h1v1h-1zM136.0 314.0h1v1h-1zM137.5 333.4h1v1h-1zM137.3 306.1h1v1h-1zM137.4 321.2h1v1h-1zM135.2 299.9h1v1h-1zM138.4 323.6h1v1h-1zM138.9 313.9h1v1h-1zM137.5 317.1h1v1h-1zM136.7 330.3h1v1h-1zM137.2 302.9h1v1h-1zM137.2 308.2h1v1h-1zM137.3 329.9h1v1h-1zM137.4 303.9h1v1h-1zM135.8 347.5h1v1h-1zM139.0 311.9h1v1h-1zM137.4 315.3h1v1h-1zM135.0 317.0h1v1h-1zM135.9 327.8h1v1h-1zM137.8 298.2h1v1h-1zM136.5 343.8h1v1h-1zM137.0 306.2h1v1h-1zM136.4 330.5h1v1h-1zM138.5 311.2h1v1h-1zM136.4 301.0h1v1h-1zM137.2 340.9h1v1h-1zM135.5 313.7h1v1h-1zM136.1 346.3h1v1h-1zM136.6 324.0h1v1h-1zM138.3 321.3h1v1h-1zM139.0 291.3h1v1h-1zM137.3 323.0h1v1h-1zM137.2 284.0h1v1h-1zM137.4 317.2h1v1h-1zM136.8 336.5h1v1h-1zM137.4 365.0h1v1h-1zM137.0 348.2h1v1h-1zM138.2 324.5h1v1h-1zM136.9 294.3h1v1h-1zM137.8 323.6h1v1h-1zM137.6 290.5h1v1h-1zM138.7 321.0h1v1h-1zM138.0 319.8h1v1h-1zM137.4 323.2h1v1h-1zM137.9 318.6h1v1h-1zM137.3 293.0h1v1h-1zM135.1 316.3h1v1h-1zM138.2 343.1h1v1h-1zM137.7 325.0h1v1h-1zM137.8 323.3h1v1h-1zM136.1 323.7h1v1h-1zM135.9 318.1h1v1h-1zM137.4 310.6h1v1h-1zM137.1 326.1h1v1h-1zM136.5 303.2h1v1h-1zM137.9 307.3h1v1h-1zM137.8 357.9h1v1h-1zM136.7 328.5h1v1h-1zM137.3 332.2h1v1h-1zM138.2 306.9h1v1h-1zM136.7 291.0h1v1h-1zM140.0 317.8h1v1h-1zM137.3 330.7h1v1h-1zM138.2 321.8h1v1h-1zM136.8 331.8h1v1h-1zM136.8 303.2h1v1h-1zM136.2 323.1h1v1h-1zM135.7 321.5h1v1h-1zM134.7 308.9h1v1h-1zM137.4 333.9h1v1h-1zM135.5 305.8h1v1h-1zM136.2 305.6h1v1h-1zM136.7 284.5h1v1h-1zM137.4 301.9h1v1h-1zM136.4 294.0h1v1h-1zM135.7 316.5h1v1h-1zM136.9 345.9h1v1h-1zM137.4 305.7h1v1h-1zM138.6 299.8h1v1h-1zM137.7 305.3h1v1h-1zM135.7 337.1h1v1h-1zM137.2 318.4h1v1h-1zM137.8 330.5h1v1h-1zM137.5 298.7h1v1h-1zM136.6 326.2h1v1h-1zM137.7 317.8h1v1h-1zM137.6 323.1h1v1h-1zM134.6 313.8h1v1h-1zM139.7 320.2h1v1h-1zM133.8 331.2h1v1h-1zM139.9 319.3h1v1h-1zM137.2 370.2h1v1h-1zM138.3 320.9h1v1h-1zM136.2 320.2h1v1h-1z" fill="#ff0000" fill-opacity="0.5"/>
<path d="M208.5 350.8h1v1h-1zM208.5 345.2h1v1h-1zM209.2 341.0h1v1h-1zM208.7 345.0h1v1h-1zM207.6 333.7h1v1h-1zM209.7 350.8h1v1h-1zM206.9 352.2h1v1h-1zM206.8 337.2h1v1h-1zM209.3 341.3h1v1h-1zM209.4 351.4h1v1h-1zM209.1 353.4h1v1h-1zM209.9 346.8h1v1h-1zM208.7 345.0h1v1h-1zM209.9 354.4h1v1h-1zM208.9 344.6h1v1h-1zM210.7 338.4h1v1h-1zM210.8 342.4h1v1h-1zM209.1 338.7h1v1h-1zM210.0 350.1h1v1h-1zM209.0 351.6h1v1h-1zM210.5 345.7h1v1h-1zM208.2 339.4h1v1h-1zM208.5 359.1h1v1h-1zM208.9 342.2h1v1h-1zM209.0 343.2h1v1h-1zM209.0 319.6h1v1h-1zM209.4 332.5h1v1h-1zM208.0 347.8h1v1h-1zM207.0 345.0h1v1h-1zM207.8 343.8h1v1h-1zM209.8 347.5h1v1h-1zM209.0 347.7h1v1h-1zM210.7 349.8h1v1h-1zM209.4 344.4h1v1h-1zM207.6 345.9h1v1h-1zM208.9 344.1h1v1h-1zM208.6 350.8h1v1h-1zM208.7 364.2h1v1h-1zM208.5 349.8h1v1h-1zM208.4 349.5h1v1h-1zM207.1 355.7h1v1h-1zM209.3 351.8h1v1h-1zM209.8 351.0h1v1h-1zM208.2 351.6h1v1h-1zM206.0 339.0h1v1h-1zM209.6 341.6h1v1h-1zM208.0 338.2h1v1h-1zM207.7 345.9h1v1h-1zM208.8 339.6h1v1h-1zM208.7 336.8h1v1h-1zM208.8 361.9h1v1h-1zM208.2 350.6h1v1h-1zM208.9 350.7h1v1h-1zM209.4 355.7h1v1h-1zM208.4 342.1h1v1h-1zM209.4 350.0h1v1h-1zM209.5 347.0h1v1h-1zM208.8 371.8h1v1h-1zM208.9 345.9h1v1h-1zM208.4 339.2h1v1h-1zM209.3 361.4h1v1h-1zM208.6 346.3h1v1h-1zM206.3 348.9h1v1h-1zM208.2 348.1h1v1h-1zM208.7 333.9h1v1h-1zM209.3 340.2h1v1h-1zM206.9 328.2h1v1h-1zM208.6 347.9h1v1h-1zM209.0 334.6h1v1h-1zM209.1 346.8h1v1h-1zM208.9 356.1h1v1h-1zM209.6 338.1h1v1h-1zM207.1 337.8h1v1h-1zM209.0 339.0h1v1h-1zM208.8 321.8h1v1h-1zM209.3 364.8h1v1h-1zM209.0 337.0h1v1h-1zM208.3 337.3h1v1h-1zM208.8 339.8h1v1h-1zM211.3 345.7h1v1h-1zM208.6 327.0h1v1h-1zM208.0 346.7h1v1h-1zM209.3 345.2h1v1h-1zM209.4 355.5h1v1h-1zM210.9 337.3h1v1h-1zM209.8 350.5h1v1h-1zM207.1 352.5h1v1h-1zM211.7 359.7h1v1h-1zM209.2 340.3h1v1h-1zM211.9 352.3h1v1h-1zM212.4 320.0h1v1h-1zM209.3 360.8h1v1h-1zM210.5 344.4h1v1h-1zM209.1 345.8h1v1h-1zM209.4 345.2h1v1h-1zM209.2 344.0h1v1h-1zM209.9 345.7h1v1h-1zM208.4 347.9h1v1h-1zM210.5 336.2h1v1h-1zM209.3 332.1h1v1h-1zM208.1 355.3h1v1h-1zM208.5 348.3h1v1h-1zM210.2 344.3h1v1h-1zM208.8 341.4h1v1h-1zM210.1 355.0h1v1h-1zM208.9 336.6h1v1h-1zM209.9 348.8h1v1h-1zM208.0 344.9h1v1h-1zM211.3 345.4h1v1h-1zM208.1 349.7h1v1h-1zM207.9 344.2h1v1h-1zM210.7 343.6h1v1h-1zM209.0 342.6h1v1h-1zM208.8 347.5h1v1h-1zM208.6 336.9h1v1h-1zM207.6 339.5h1v1h-1zM210.0 354.1h1v1h-1zM209.0 354.1h1v1h-1zM209.3 328.1h1v1h-1zM209.3 359.7h1v1h-1zM208.3 341.0h1v1h-1zM207.1 333.9h1v1h-1zM208.5 335.6h1v1h-1zM210.7 340.8h1v1h-1zM208.9 352.2h1v1h-1zM208.5 341.8h1v1h-1zM209.6 367.1h1v1h-1zM207.7 355.4h1v1h-1zM208.4 346.3h1v1h-1zM209.6 356.3h1v1h-1zM210.0 349.2h1v1h-1zM207.7 341.2h1v1h-1zM207.7 336.0h1v1h-1zM208.6 350.6h1v1h-1zM209.8 355.8h1v1h-1zM208.2 350.7h1v1h-1zM208.2 348.6h1v1h-1zM209.0 351.8h1v1h-1zM209.0 337.5h1v1h-1zM209.0 360.0h1v1h-1zM207.0 343.9h1v1h-1zM208.3 346.0h1v1h-1zM208.8 327.0h1v1h-1zM210.3 348.0h1v1h-1zM209.6 342.9h1v1h-1zM209.7 337.1h1v1h-1zM208.7 347.9h1v1h-1zM209.7 346.8h1v1h-1zM210.9 336.3h1v1h-1zM210.4 340.9h1v1h-1z" fill="#ff0000" fill-opacity="0.5"/>
<path d="M263.6 365.5h1v1h-1zM266.5 379.7h1v1h-1zM264.9 368.0h1v1h-1zM265.0 361.8h1v1h-1zM265.5 365.2h1v1h-1zM264.6 357.3h1v1h-1zM265.6 370.0h1v1h-1zM265.9 359.1h1v1h-1zM267.7 356.7h1v1h-1zM264.7 372.9h1v1h-1zM264.8 377.3h1v1h-1zM264.8 353.8h1v1h-1zM266.5 362.9h1v1h-1zM265.6 354.0h1v1h-1zM265.4 369.9h1v1h-1zM266.4 360.3h1v1h-1zM265.2 358.6h1v1h-1zM265.9 363.8h1v1h-1zM267.0 366.1h1v1h-1zM267.1 365.8h1v1h-1zM267.6 364.8h1v1h-1zM265.3 367.9h1v1h-1zM265.2 365.6h1v1h-1zM266.1 368.2h1v1h-1zM266.1 355.5h1v1h-1zM266.4 367.4h1v1h-1zM265.5 359.6h1v1h-1zM267.1 362.4h1v1h-1zM265.5 369.1h1v1h-1zM266.8 366.6h1v1h-1zM265.7 358.8h1v1h-1zM265.4 365.6h1v1h-1zM264.3 359.9h1v1h-1zM266.9 361.2h1v1h-1zM265.9 352.4h1v1h-1zM264.4 370.2h1v1h-1zM266.5 363.3h1v1h-1zM265.3 367.7h1v1h-1zM265.6 366.3h1v1h-1zM265.0 365.5h1v1h-1zM265.6 361.0h1v1h-1zM264.5 369.3h1v1h-1zM266.6 369.8h1v1h-1zM264.6 352.7h1v1h-1zM266.2 366.8h1v1h-1zM265.9 360.3h1v1h-1zM265.9 366.5h1v1h-1zM264.7 366.1h1v1h-1zM265.9 370.4h1v1h-1zM266.7 353.7h1v1h-1zM266.5 375.5h1v1h-1zM265.8 371.8h1v1h-1zM267.0 369.2h1v1h-1zM268.0 357.0h1v1h-1zM267.5 367.0h1v1h-1zM265.6 368.8h1v1h-1zM267.7 340.6h1v1h-1zM267.0 367.8h1v1h-1zM266.3 357.9h1v1h-1zM267.2 372.4h1v1h-1zM266.5 358.9h1v1h-1zM265.8 362.8h1v1h-1zM267.5 362.3h1v1h-1zM266.0 360.1h1v1h-1zM267.3 381.3h1v1h-1zM265.5 366.9h1v1h-1zM266.8 368.1h1v1h-1zM265.8 357.5h1v1h-1zM267.7 363.6h1v1h-1zM266.0 374.9h1v1h-1zM266.1 374.7h1v1h-1zM265.1 361.8h1v1h-1zM266.0 364.0h1v1h-1zM265.9 366.2h1v1h-1zM265.6 366.7h1v1h-1zM263.4 370.2h1v1h-1zM266.6 366.5h1v1h-1zM266.7 368.3h1v1h-1zM265.5 365.0h1v1h-1zM265.9 361.9h1v1h-1zM266.8 366.5h1v1h-1zM265.7 378.9h1v1h-1zM266.6 358.7h1v1h-1zM267.2 348.1h1v1h-1zM267.3 362.9h1v1h-1zM268.9 355.8h1v1h-1zM265.7 363.7h1v1h-1zM265.6 362.9h1v1h-1zM266.8 355.8h1v1h-1zM267.5 359.6h1v1h-1zM265.3 366.1h1v1h-1zM265.6 359.9h1v1h-1zM265.5 356.7h1v1h-1zM266.6 365.5h1v1h-1zM268.2 368.2h1v1h-1zM266.6 356.3h1v1h-1zM266.4 368.2h1v1h-1zM268.0 352.5h1v1h-1zM267.1 362.8h1v1h-1zM266.5 364.2h1v1h-1zM265.2 364.8h1v1h-1zM265.5 358.8h1v1h-1zM266.5 364.4h1v1h-1zM265.7 355.7h1v1h-1zM266.5 376.2h1v1h-1zM264.2 363.1h1v1h-1zM267.6 368.9h1v1h-1zM266.1 364.6h1v1h-1zM266.3 361.5h1v1h-1zM265.2 375.0h1v1h-1zM266.9 362.9h1v1h-1zM267.7 354.9h1v1h-1zM267.0 360.5h1v1h-1zM267.4 357.8h1v1h-1zM267.8 371.6h1v1h-1zM264.0 361.4h1v1h-1zM264.5 365.2h1v1h-1zM265.8 367.3h1v1h-1zM265.9 371.2h1v1h-1zM266.9 354.5h1v1h-1zM264.6 362.7h1v1h-1zM265.4 365.2h1v1h-1zM264.6 368.8h1v1h-1zM266.1 364.0h1v1h-1zM265.5 360.9h1v1h-1zM267.2 360.5h1v1h-1zM264.0 380.5h1v1h-1zM265.8 354.6h1v1h-1zM266.5 375.7h1v1h-1zM265.6 367.6h1v1h-1zM266.9 367.5h1v1h-1zM266.0 366.1h1v1h-1zM264.7 361.5h1v1h-1zM267.4 359.7h1v1h-1zM267.1 367.7h1v1h-1zM266.7 364.6h1v1h-1zM266.7 369.2h1v1h-1zM266.6 367.0h1v1h-1zM266.4 368.8h1v1h-1zM265.6 364.7h1v1h-1zM267.2 370.1h1v1h-1zM265.7 363.8h1v1h-1zM267.8 370.4h1v1h-1zM264.5 365.6h1v1h-1zM266.5 356.7h1v1h-1zM265.2 361.4h1v1h-1zM266.8 349.2h1v1h-1zM267.1 364.1h1v1h-1zM266.0 366.3h1v1h-1zM266.7 358.4h1v1h-1z" fill="#ff0000" fill-opacity="0.5"/>
<polyline points="40.50,314.09 41.63,314.09 42.76,314.09 43.89,314.09 45.02,314.09 46.15,314.09 47.28,314.09 48.41,314.09 49.54,314.09 50.67,314.09 51.80,314.09 52.93,314.09 54.06,314.09 55.19,314.09 56.32,314.09 57.45,314.09 58.58,314.09 59.71,314.09 60.84,314.09 61.97,314.09 63.10,314.09 64.23,314.09 65.36,314.09 66.49,314.09 67.62,314.09 68.75,314.09 69.88,314.09 71.01,314.09 72.14,314.09 73.27,314.09 74.40,314.09 75.53,314.09 76.66,314.09 77.79,314.09 78.92,314.09 80.05,314.09 81.18,314.09 82.31,314.09 83.44,314.09 84.57,314.09 85.70,314.09 86.83,314.09 87.96,314.09 89.09,314.09 90.22,314.09 91.35,314.09 92.48,314.09 93.61,314.09 94.74,314.09 95.87,314.09 97.00,314.09 98.13,314.09 99.26,314.09 100.39,314.09 101.52,314.09 102.65,314.09 103.78,314.09 104.91,314.09 106.04,314.09 107.17,314.10 108.30,314.10 109.43,314.11 110.56,314.12 111.69,314.14 112.82,314.15 113.95,314.17 115.08,314.18 116.21,314.20 117.34,314.22 118.47,314.24 119.60,314.27 120.73,314.32 121.86,314.37 122.99,314.43 124.12,314.50 125.25,314.56 126.38,314.63 127.51,314.70 128.64,314.77 129.77,314.84 130.90,314.90 132.03,314.97 133.16,315.04 134.29,315.11 135.42,315.18 136.55,315.26 137.68,315.36 138.81,315.47 139.94,315.60 141.07,315.74 142.20,315.88 143.33,316.03 144.46,316.18 145.59,316.33 146.72,316.48 147.85,316.63 148.98,316.77 150.11,316.92 151.24,317.07 152.37,317.22 153.50,317.38 154.63,317.55 155.76,317.75 156.89,317.97 158.02,318.23 159.15,318.51 160.28,318.79 161.41,319.09 162.54,319.39 163.67,319.72 164.80,320.08 165.93,320.49 167.06,320.94 168.19,321.41 169.32,321.90 170.45,322.40 171.58,322.91 172.71,323.44 173.84,324.00 174.97,324.61 176.10,325.26 177.23,325.93 178.36,326.62 179.49,327.31 180.62,328.01 181.75,328.72 182.88,329.45 184.01,330.20 185.14,330.98 186.27,331.78 187.40,332.58 188.53,333.38 189.66,334.19 190.79,335.01 191.92,335.83 193.05,336.67 194.18,337.51 195.31,338.36 196.44,339.22 197.57,340.07 198.70,340.92 199.83,341.76 200.96,342.58 202.09,343.37 203.22,344.13 204.35,344.88 205.48,345.62 206.61,346.35 207.74,347.07 208.87,347.77 210.00,348.43 211.13,349.03 212.26,349.59 213.39,350.12 214.52,350.64 215.65,351.14 216.78,351.64 217.91,352.12 219.04,352.58 220.17,353.00 221.30,353.39 222.43,353.76 223.56,354.13 224.69,354.48 225.82,354.84 226.95,355.18 228.08,355.51 229.21,355.82 230.34,356.12 231.47,356.40 232.60,356.68 233.73,356.95 234.86,357.23 235.99,357.50 237.12,357.77 238.25,358.03 239.38,358.28 240.51,358.50 241.64,358.70 242.77,358.88 243.90,359.05 245.03,359.21 246.16,359.38 247.29,359.54 248.42,359.71 249.55,359.87 250.68,360.04 251.81,360.20 252.94,360.36 254.07,360.52 255.20,360.67 256.33,360.81 257.46,360.93 258.59,361.06 259.72,361.18 260.85,361.29 261.98,361.41 263.11,361.53 264.24,361.65 265.37,361.75 266.50,361.85 267.63,361.93 268.76,362.01 269.89,362.07 271.02,362.14 272.15,362.20 273.28,362.26 274.41,362.32 275.54,362.38 276.67,362.45 277.80,362.51 278.93,362.57 280.06,362.63 281.19,362.69 282.32,362.76 283.45,362.82 284.58,362.88 285.71,362.94 286.84,363.00 287.97,363.06 289.10,363.10 290.23,363.15 291.36,363.18 292.49,363.21 293.62,363.24 294.75,363.27 295.88,363.29 297.01,363.32 298.14,363.35 299.27,363.38 300.40,363.40 301.53,363.43 302.66,363.46 303.79,363.48 304.92,363.51 306.05,363.53 307.18,363.55 308.31,363.56 309.44,363.57 310.57,363.58 311.70,363.59 312.83,363.60 313.96,363.61 315.09,363.62 316.22,363.63 317.35,363.64 318.48,363.66 319.61,363.67 320.74,363.68 321.87,363.69 323.00,363.70" fill="none" stroke="#bf00bf" stroke-width="1.35" stroke-opacity="0.85" stroke-linejoin="round" />
<polyline points="137.70,318.85 209.50,346.75 266.60,365.35" fill="none" stroke="#111" stroke-width="1.15" stroke-opacity="0.9" stroke-linejoin="round" />
<line x1="137.70" y1="300.25" x2="137.70" y2="337.45" stroke="#1a1a1a" stroke-width="1.0"/>
<line x1="135.10" y1="300.25" x2="140.30" y2="300.25" stroke="#111" stroke-width="1.1"/>
<line x1="135.10" y1="337.45" x2="140.30" y2="337.45" stroke="#111" stroke-width="1.1"/>
<circle cx="137.70" cy="318.85" r="1.5" fill="#111"/>
<line x1="209.50" y1="336.41" x2="209.50" y2="357.08" stroke="#1a1a1a" stroke-width="1.0"/>
<line x1="206.90" y1="336.41" x2="212.10" y2="336.41" stroke="#111" stroke-width="1.1"/>
<line x1="206.90" y1="357.08" x2="212.10" y2="357.08" stroke="#111" stroke-width="1.1"/>
<circle cx="209.50" cy="346.75" r="1.5" fill="#111"/>
<line x1="266.60" y1="357.08" x2="266.60" y2="373.62" stroke="#1a1a1a" stroke-width="1.0"/>
<line x1="264.00" y1="357.08" x2="269.20" y2="357.08" stroke="#111" stroke-width="1.1"/>
<line x1="264.00" y1="373.62" x2="269.20" y2="373.62" stroke="#111" stroke-width="1.1"/>
<circle cx="266.60" cy="365.35" r="1.5" fill="#111"/>
<line x1="380.6" y1="363.80" x2="662.6" y2="363.80" stroke="#2a2a2a" stroke-width="1.2" stroke-dasharray="2.8 1.5"/>
<path d="M476.5 306.3h1v1h-1zM477.2 306.8h1v1h-1zM477.7 322.9h1v1h-1zM476.4 316.8h1v1h-1zM477.3 302.0h1v1h-1zM478.0 310.2h1v1h-1zM476.6 324.1h1v1h-1zM478.1 310.3h1v1h-1zM475.7 312.4h1v1h-1zM478.7 303.2h1v1h-1zM477.6 313.5h1v1h-1zM478.2 314.2h1v1h-1zM478.0 309.5h1v1h-1zM477.8 305.0h1v1h-1zM476.4 300.6h1v1h-1zM476.0 322.9h1v1h-1zM475.4 310.2h1v1h-1zM475.5 305.9h1v1h-1zM476.2 314.9h1v1h-1zM476.8 304.6h1v1h-1zM476.5 305.7h1v1h-1zM476.0 302.8h1v1h-1zM477.0 314.0h1v1h-1zM476.0 314.7h1v1h-1zM477.2 300.6h1v1h-1zM477.0 298.0h1v1h-1zM477.1 310.0h1v1h-1zM478.4 313.4h1v1h-1zM477.0 314.1h1v1h-1zM475.9 307.2h1v1h-1zM474.9 299.5h1v1h-1zM477.9 306.3h1v1h-1zM476.2 304.4h1v1h-1zM477.3 305.6h1v1h-1zM476.0 306.8h1v1h-1zM476.0 302.7h1v1h-1zM474.9 312.7h1v1h-1zM475.6 292.7h1v1h-1zM476.8 304.4h1v1h-1zM477.5 305.1h1v1h-1zM477.3 308.4h1v1h-1zM477.6 299.8h1v1h-1zM476.0 322.7h1v1h-1zM475.1 301.8h1v1h-1zM477.0 308.1h1v1h-1zM476.3 316.5h1v1h-1zM476.9 309.7h1v1h-1zM478.0 303.1h1v1h-1zM477.5 301.7h1v1h-1zM477.3 314.9h1v1h-1zM475.6 310.0h1v1h-1zM477.0 310.8h1v1h-1zM476.1 312.3h1v1h-1zM478.0 301.8h1v1h-1zM477.1 296.6h1v1h-1zM479.0 307.3h1v1h-1zM477.9 298.3h1v1h-1zM477.3 305.1h1v1h-1zM475.5 307.4h1v1h-1zM476.6 314.5h1v1h-1zM475.4 299.8h1v1h-1zM475.5 316.5h1v1h-1zM476.4 305.3h1v1h-1zM475.2 310.7h1v1h-1zM477.3 305.6h1v1h-1zM475.7 304.7h1v1h-1zM475.9 307.1h1v1h-1zM476.4 315.1h1v1h-1zM476.7 304.6h1v1h-1zM477.4 313.9h1v1h-1zM477.5 307.1h1v1h-1zM478.5 305.9h1v1h-1zM477.9 307.2h1v1h-1zM476.4 306.6h1v1h-1zM477.3 314.0h1v1h-1zM477.6 310.6h1v1h-1zM477.4 319.4h1v1h-1zM476.2 303.7h1v1h-1zM476.3 316.2h1v1h-1zM475.6 293.2h1v1h-1zM476.0 302.9h1v1h-1zM477.0 302.7h1v1h-1zM477.0 301.8h1v1h-1zM475.7 307.5h1v1h-1zM477.9 310.4h1v1h-1zM477.7 309.5h1v1h-1zM476.8 309.6h1v1h-1zM478.0 315.5h1v1h-1zM476.3 310.0h1v1h-1zM477.7 312.8h1v1h-1zM475.9 304.7h1v1h-1zM475.7 303.2h1v1h-1zM475.9 315.5h1v1h-1zM476.5 313.7h1v1h-1zM477.8 298.1h1v1h-1zM477.9 317.4h1v1h-1zM477.2 296.7h1v1h-1zM477.7 295.5h1v1h-1zM475.1 309.5h1v1h-1zM478.1 309.8h1v1h-1zM476.9 307.5h1v1h-1zM476.9 312.2h1v1h-1zM477.8 303.1h1v1h-1zM477.9 310.2h1v1h-1zM476.4 306.7h1v1h-1zM476.1 314.0h1v1h-1zM476.5 303.5h1v1h-1zM477.4 300.9h1v1h-1zM476.9 305.6h1v1h-1zM477.8 308.0h1v1h-1zM476.6 314.4h1v1h-1zM476.0 310.3h1v1h-1zM477.7 308.4h1v1h-1zM477.7 316.5h1v1h-1zM476.2 310.6h1v1h-1zM476.8 308.9h1v1h-1zM478.1 302.5h1v1h-1zM476.8 327.5h1v1h-1zM476.3 316.5h1v1h-1zM476.9 303.9h1v1h-1zM476.5 308.6h1v1h-1zM475.6 299.3h1v1h-1zM476.7 305.6h1v1h-1zM477.6 304.7h1v1h-1zM476.9 305.3h1v1h-1zM477.6 313.9h1v1h-1zM476.9 307.1h1v1h-1zM476.3 319.4h1v1h-1zM477.3 300.0h1v1h-1zM477.8 304.3h1v1h-1zM477.1 303.4h1v1h-1zM476.4 303.3h1v1h-1zM476.8 304.3h1v1h-1zM478.3 304.4h1v1h-1zM476.9 311.7h1v1h-1zM478.3 300.6h1v1h-1zM476.2 319.0h1v1h-1zM477.0 305.6h1v1h-1zM478.6 306.9h1v1h-1zM475.7 298.6h1v1h-1zM476.2 304.7h1v1h-1zM476.6 298.1h1v1h-1zM476.4 311.2h1v1h-1zM477.7 310.1h1v1h-1zM477.4 310.6h1v1h-1zM475.9 309.0h1v1h-1zM476.9 303.3h1v1h-1zM478.2 305.4h1v1h-1zM477.6 306.5h1v1h-1zM476.0 299.0h1v1h-1z" fill="#ff0000" fill-opacity="0.5"/>
<path d="M548.4 341.4h1v1h-1zM547.9 344.0h1v1h-1zM549.0 348.3h1v1h-1zM547.9 344.9h1v1h-1zM548.3 349.2h1v1h-1zM549.5 347.6h1v1h-1zM549.8 349.0h1v1h-1zM546.3 342.5h1v1h-1zM548.4 341.8h1v1h-1zM549.5 348.0h1v1h-1zM547.0 346.0h1v1h-1zM548.6 345.7h1v1h-1zM548.1 341.9h1v1h-1zM548.8 343.4h1v1h-1zM548.8 345.4h1v1h-1zM548.6 343.5h1v1h-1zM549.1 342.6h1v1h-1zM547.7 348.7h1v1h-1zM548.6 344.1h1v1h-1zM547.7 346.2h1v1h-1zM547.8 346.2h1v1h-1zM548.5 343.6h1v1h-1zM547.6 347.4h1v1h-1zM548.0 344.9h1v1h-1zM548.8 344.2h1v1h-1zM548.2 342.8h1v1h-1zM547.0 344.9h1v1h-1zM547.2 352.5h1v1h-1zM549.2 343.9h1v1h-1zM548.3 344.1h1v1h-1zM548.9 348.3h1v1h-1zM548.0 348.7h1v1h-1zM548.3 346.7h1v1h-1zM548.8 343.6h1v1h-1zM547.5 345.3h1v1h-1zM548.4 354.4h1v1h-1zM548.5 343.2h1v1h-1zM547.5 348.1h1v1h-1zM547.1 348.1h1v1h-1zM548.6 348.1h1v1h-1zM548.0 343.9h1v1h-1zM549.0 346.7h1v1h-1zM549.5 344.2h1v1h-1zM547.3 346.3h1v1h-1zM547.3 347.7h1v1h-1zM547.8 348.2h1v1h-1zM547.6 346.9h1v1h-1zM549.8 343.4h1v1h-1zM547.4 350.2h1v1h-1zM548.2 348.9h1v1h-1zM550.1 344.3h1v1h-1zM548.0 344.1h1v1h-1zM548.0 343.6h1v1h-1zM548.6 345.4h1v1h-1zM548.9 339.6h1v1h-1zM547.6 342.3h1v1h-1zM548.5 346.7h1v1h-1zM549.5 348.1h1v1h-1zM548.4 345.1h1v1h-1zM548.7 344.6h1v1h-1zM549.6 345.0h1v1h-1zM548.1 342.4h1v1h-1zM546.6 347.4h1v1h-1zM548.2 346.6h1v1h-1zM548.4 350.8h1v1h-1zM547.2 344.4h1v1h-1zM548.5 342.0h1v1h-1zM549.2 345.4h1v1h-1zM547.5 344.0h1v1h-1zM550.2 347.7h1v1h-1zM547.7 346.1h1v1h-1zM549.0 341.2h1v1h-1zM548.0 341.7h1v1h-1zM544.6 344.2h1v1h-1zM548.9 345.7h1v1h-1zM545.4 345.7h1v1h-1zM546.8 346.7h1v1h-1zM546.9 350.5h1v1h-1zM549.1 346.1h1v1h-1zM549.7 343.0h1v1h-1zM546.2 344.5h1v1h-1zM547.5 341.1h1v1h-1zM547.6 346.7h1v1h-1zM547.2 347.5h1v1h-1zM550.1 347.6h1v1h-1zM547.4 348.3h1v1h-1zM548.1 344.7h1v1h-1zM547.6 343.9h1v1h-1zM546.7 346.2h1v1h-1zM549.4 345.9h1v1h-1zM549.2 345.5h1v1h-1zM547.2 344.6h1v1h-1zM546.5 344.7h1v1h-1zM548.2 348.8h1v1h-1zM549.0 351.6h1v1h-1zM548.0 345.6h1v1h-1zM548.7 351.1h1v1h-1zM546.9 344.5h1v1h-1zM550.1 353.3h1v1h-1zM548.2 345.4h1v1h-1zM547.8 347.1h1v1h-1zM546.6 345.2h1v1h-1zM546.4 344.2h1v1h-1zM548.9 343.5h1v1h-1zM548.0 344.8h1v1h-1zM549.6 342.8h1v1h-1zM549.3 345.1h1v1h-1zM547.8 349.2h1v1h-1zM548.4 344.2h1v1h-1zM549.8 348.9h1v1h-1zM547.2 349.0h1v1h-1zM548.2 348.8h1v1h-1zM548.6 348.4h1v1h-1zM548.1 344.4h1v1h-1zM545.4 347.9h1v1h-1zM547.7 343.9h1v1h-1zM547.9 346.4h1v1h-1zM548.8 345.8h1v1h-1zM547.2 345.5h1v1h-1zM549.4 343.1h1v1h-1zM547.8 345.8h1v1h-1zM549.7 345.8h1v1h-1zM548.2 348.6h1v1h-1zM547.5 346.1h1v1h-1zM547.8 342.8h1v1h-1zM547.8 345.5h1v1h-1zM546.6 348.0h1v1h-1zM548.7 345.3h1v1h-1zM549.0 345.3h1v1h-1zM547.6 345.6h1v1h-1zM547.2 345.8h1v1h-1zM548.1 344.2h1v1h-1zM547.5 346.8h1v1h-1zM548.2 345.5h1v1h-1zM547.7 350.7h1v1h-1zM547.6 343.9h1v1h-1zM546.9 342.4h1v1h-1zM548.9 347.2h1v1h-1zM549.1 344.7h1v1h-1zM546.6 336.1h1v1h-1zM547.9 353.6h1v1h-1zM549.4 347.3h1v1h-1zM549.1 339.8h1v1h-1zM548.0 345.8h1v1h-1zM547.6 347.8h1v1h-1zM549.9 345.1h1v1h-1zM547.7 346.6h1v1h-1zM547.9 344.1h1v1h-1zM547.6 350.7h1v1h-1zM549.5 347.7h1v1h-1z" fill="#ff0000" fill-opacity="0.5"/>
<path d="M603.9 367.3h1v1h-1zM604.8 365.8h1v1h-1zM604.5 365.8h1v1h-1zM603.7 369.5h1v1h-1zM603.4 365.3h1v1h-1zM602.4 366.0h1v1h-1zM602.4 364.0h1v1h-1zM602.7 367.8h1v1h-1zM604.7 361.0h1v1h-1zM605.7 361.4h1v1h-1zM603.9 358.3h1v1h-1zM603.3 357.8h1v1h-1zM602.3 360.2h1v1h-1zM604.4 359.4h1v1h-1zM604.4 361.5h1v1h-1zM605.6 362.4h1v1h-1zM604.1 360.9h1v1h-1zM605.1 361.6h1v1h-1zM604.4 360.4h1v1h-1zM602.7 365.4h1v1h-1zM603.6 362.9h1v1h-1zM603.5 362.1h1v1h-1zM601.7 363.6h1v1h-1zM602.5 359.4h1v1h-1zM602.9 368.3h1v1h-1zM604.8 365.9h1v1h-1zM602.1 365.8h1v1h-1zM603.2 362.4h1v1h-1zM604.7 364.3h1v1h-1zM603.9 361.9h1v1h-1zM603.2 360.0h1v1h-1zM602.7 362.7h1v1h-1zM604.0 364.1h1v1h-1zM603.3 363.0h1v1h-1zM603.6 360.9h1v1h-1zM604.5 364.0h1v1h-1zM605.3 362.0h1v1h-1zM604.9 361.6h1v1h-1zM603.6 364.0h1v1h-1zM603.4 364.5h1v1h-1zM604.2 356.3h1v1h-1zM604.1 361.8h1v1h-1zM604.2 361.9h1v1h-1zM602.9 362.4h1v1h-1zM603.3 366.8h1v1h-1zM603.6 361.1h1v1h-1zM605.5 362.1h1v1h-1zM604.1 357.2h1v1h-1zM603.2 359.7h1v1h-1zM604.1 364.2h1v1h-1zM603.1 359.5h1v1h-1zM604.6 368.3h1v1h-1zM605.2 362.4h1v1h-1zM603.0 362.4h1v1h-1zM603.4 360.2h1v1h-1zM603.0 367.3h1v1h-1zM603.9 361.6h1v1h-1zM604.9 361.8h1v1h-1zM602.1 362.1h1v1h-1zM603.9 360.2h1v1h-1zM603.7 362.6h1v1h-1zM604.0 361.9h1v1h-1zM603.3 354.1h1v1h-1zM604.1 356.6h1v1h-1zM603.7 359.4h1v1h-1zM602.6 365.3h1v1h-1zM605.1 365.0h1v1h-1zM602.8 361.9h1v1h-1zM605.1 362.2h1v1h-1zM604.7 361.3h1v1h-1zM604.8 361.8h1v1h-1zM603.4 362.0h1v1h-1zM603.8 362.3h1v1h-1zM603.1 361.8h1v1h-1zM604.6 361.6h1v1h-1zM604.1 364.0h1v1h-1zM604.1 366.6h1v1h-1zM604.6 361.2h1v1h-1zM601.8 363.5h1v1h-1zM602.1 360.7h1v1h-1zM603.8 361.8h1v1h-1zM603.5 363.7h1v1h-1zM603.0 360.5h1v1h-1zM604.3 360.8h1v1h-1zM603.6 363.3h1v1h-1zM604.0 360.4h1v1h-1zM603.9 361.3h1v1h-1zM605.7 360.4h1v1h-1zM604.4 362.6h1v1h-1zM602.2 365.8h1v1h-1zM603.1 361.1h1v1h-1zM605.1 365.3h1v1h-1zM603.9 361.4h1v1h-1zM606.4 364.2h1v1h-1zM604.1 361.8h1v1h-1zM603.8 361.5h1v1h-1zM602.8 357.7h1v1h-1zM603.2 361.1h1v1h-1zM603.8 364.3h1v1h-1zM603.1 363.0h1v1h-1zM603.7 359.9h1v1h-1zM602.9 362.5h1v1h-1zM603.1 361.7h1v1h-1zM604.3 358.5h1v1h-1zM603.6 358.3h1v1h-1zM603.6 362.3h1v1h-1zM603.7 358.0h1v1h-1zM604.5 365.3h1v1h-1zM605.1 362.4h1v1h-1zM602.5 362.6h1v1h-1zM604.5 363.4h1v1h-1zM601.6 363.7h1v1h-1zM604.4 364.1h1v1h-1zM604.3 365.4h1v1h-1zM603.3 361.4h1v1h-1zM604.9 363.2h1v1h-1zM603.3 363.0h1v1h-1zM603.7 362.9h1v1h-1zM604.7 362.8h1v1h-1zM603.1 362.3h1v1h-1zM604.6 363.0h1v1h-1zM604.2 363.7h1v1h-1zM602.3 360.4h1v1h-1zM605.0 361.7h1v1h-1zM604.1 361.2h1v1h-1zM604.5 357.7h1v1h-1zM603.1 361.5h1v1h-1zM604.8 362.8h1v1h-1zM604.0 366.2h1v1h-1zM602.7 359.7h1v1h-1zM605.5 358.2h1v1h-1zM604.3 362.0h1v1h-1zM603.9 357.8h1v1h-1zM604.8 364.9h1v1h-1zM603.3 365.3h1v1h-1zM604.6 358.6h1v1h-1zM603.9 358.8h1v1h-1zM604.0 361.4h1v1h-1zM603.8 358.6h1v1h-1zM604.3 360.7h1v1h-1zM604.5 361.1h1v1h-1zM605.1 371.5h1v1h-1zM603.9 365.9h1v1h-1zM604.3 369.0h1v1h-1zM604.2 364.9h1v1h-1zM605.3 361.1h1v1h-1zM603.8 366.0h1v1h-1zM603.5 362.6h1v1h-1zM604.0 366.7h1v1h-1zM602.6 367.5h1v1h-1z" fill="#ff0000" fill-opacity="0.5"/>
<polyline points="380.60,314.09 381.73,314.09 382.86,314.09 383.98,314.09 385.11,314.09 386.24,314.09 387.37,314.09 388.50,314.09 389.62,314.09 390.75,314.09 391.88,314.09 393.01,314.09 394.14,314.09 395.26,314.09 396.39,314.09 397.52,314.09 398.65,314.09 399.78,314.09 400.90,314.09 402.03,314.09 403.16,314.09 404.29,314.09 405.42,314.09 406.54,314.09 407.67,314.09 408.80,314.09 409.93,314.09 411.06,314.09 412.18,314.09 413.31,314.09 414.44,314.09 415.57,314.09 416.70,314.09 417.82,314.09 418.95,314.09 420.08,314.09 421.21,314.09 422.34,314.09 423.46,314.09 424.59,314.09 425.72,314.09 426.85,314.09 427.98,314.09 429.10,314.09 430.23,314.09 431.36,314.09 432.49,314.09 433.62,314.09 434.74,314.09 435.87,314.09 437.00,314.09 438.13,314.09 439.26,314.09 440.38,314.09 441.51,314.09 442.64,314.09 443.77,314.09 444.90,314.09 446.02,314.09 447.15,314.10 448.28,314.10 449.41,314.11 450.54,314.12 451.66,314.14 452.79,314.15 453.92,314.17 455.05,314.18 456.18,314.20 457.30,314.22 458.43,314.24 459.56,314.27 460.69,314.32 461.82,314.37 462.94,314.43 464.07,314.50 465.20,314.56 466.33,314.63 467.46,314.70 468.58,314.77 469.71,314.84 470.84,314.90 471.97,314.97 473.10,315.04 474.22,315.11 475.35,315.18 476.48,315.26 477.61,315.36 478.74,315.47 479.86,315.60 480.99,315.74 482.12,315.88 483.25,316.03 484.38,316.18 485.50,316.33 486.63,316.48 487.76,316.63 488.89,316.77 490.02,316.92 491.14,317.07 492.27,317.22 493.40,317.38 494.53,317.55 495.66,317.75 496.78,317.97 497.91,318.23 499.04,318.51 500.17,318.79 501.30,319.09 502.42,319.39 503.55,319.72 504.68,320.08 505.81,320.49 506.94,320.94 508.06,321.41 509.19,321.90 510.32,322.40 511.45,322.91 512.58,323.44 513.70,324.00 514.83,324.61 515.96,325.26 517.09,325.93 518.22,326.62 519.34,327.31 520.47,328.01 521.60,328.72 522.73,329.45 523.86,330.20 524.98,330.98 526.11,331.78 527.24,332.58 528.37,333.38 529.50,334.19 530.62,335.01 531.75,335.83 532.88,336.67 534.01,337.51 535.14,338.36 536.26,339.22 537.39,340.07 538.52,340.92 539.65,341.76 540.78,342.58 541.90,343.37 543.03,344.13 544.16,344.88 545.29,345.62 546.42,346.35 547.54,347.07 548.67,347.77 549.80,348.43 550.93,349.03 552.06,349.59 553.18,350.12 554.31,350.64 555.44,351.14 556.57,351.64 557.70,352.12 558.82,352.58 559.95,353.00 561.08,353.39 562.21,353.76 563.34,354.13 564.46,354.48 565.59,354.84 566.72,355.18 567.85,355.51 568.98,355.82 570.10,356.12 571.23,356.40 572.36,356.68 573.49,356.95 574.62,357.23 575.74,357.50 576.87,357.77 578.00,358.03 579.13,358.28 580.26,358.50 581.38,358.70 582.51,358.88 583.64,359.05 584.77,359.21 585.90,359.38 587.02,359.54 588.15,359.71 589.28,359.87 590.41,360.04 591.54,360.20 592.66,360.36 593.79,360.52 594.92,360.67 596.05,360.81 597.18,360.93 598.30,361.06 599.43,361.18 600.56,361.29 601.69,361.41 602.82,361.53 603.94,361.65 605.07,361.75 606.20,361.85 607.33,361.93 608.46,362.01 609.58,362.07 610.71,362.14 611.84,362.20 612.97,362.26 614.10,362.32 615.22,362.38 616.35,362.45 617.48,362.51 618.61,362.57 619.74,362.63 620.86,362.69 621.99,362.76 623.12,362.82 624.25,362.88 625.38,362.94 626.50,363.00 627.63,363.06 628.76,363.10 629.89,363.15 631.02,363.18 632.14,363.21 633.27,363.24 634.40,363.27 635.53,363.29 636.66,363.32 637.78,363.35 638.91,363.38 640.04,363.40 641.17,363.43 642.30,363.46 643.42,363.48 644.55,363.51 645.68,363.53 646.81,363.55 647.94,363.56 649.06,363.57 650.19,363.58 651.32,363.59 652.45,363.60 653.58,363.61 654.70,363.62 655.83,363.63 656.96,363.64 658.09,363.66 659.22,363.67 660.34,363.68 661.47,363.69 662.60,363.70" fill="none" stroke="#bf00bf" stroke-width="1.35" stroke-opacity="0.85" stroke-linejoin="round" />
<polyline points="477.40,308.00 548.60,346.23 604.30,362.77" fill="none" stroke="#111" stroke-width="1.15" stroke-opacity="0.9" stroke-linejoin="round" />
<line x1="477.40" y1="300.76" x2="477.40" y2="315.23" stroke="#1a1a1a" stroke-width="1.0"/>
<line x1="474.80" y1="300.76" x2="480.00" y2="300.76" stroke="#111" stroke-width="1.1"/>
<line x1="474.80" y1="315.23" x2="480.00" y2="315.23" stroke="#111" stroke-width="1.1"/>
<circle cx="477.40" cy="308.00" r="1.5" fill="#111"/>
<line x1="548.60" y1="342.62" x2="548.60" y2="349.85" stroke="#1a1a1a" stroke-width="1.0"/>
<line x1="546.00" y1="342.62" x2="551.20" y2="342.62" stroke="#111" stroke-width="1.1"/>
<line x1="546.00" y1="349.85" x2="551.20" y2="349.85" stroke="#111" stroke-width="1.1"/>
<circle cx="548.60" cy="346.23" r="1.5" fill="#111"/>
<line x1="604.30" y1="359.67" x2="604.30" y2="365.87" stroke="#1a1a1a" stroke-width="1.0"/>
<line x1="601.70" y1="359.67" x2="606.90" y2="359.67" stroke="#111" stroke-width="1.1"/>
<line x1="601.70" y1="365.87" x2="606.90" y2="365.87" stroke="#111" stroke-width="1.1"/>
<circle cx="604.30" cy="362.77" r="1.5" fill="#111"/>
<text x="137.80" y="382.00" font-size="9.6" text-anchor="middle" fill="#141414" stroke="#141414" stroke-width="0.1" style="" textLength="52.40" lengthAdjust="spacingAndGlyphs" >0.087 ± 0.036</text>
<text x="209.50" y="392.40" font-size="9.6" text-anchor="middle" fill="#141414" stroke="#141414" stroke-width="0.1" style="" textLength="53.00" lengthAdjust="spacingAndGlyphs" >0.033 ± 0.020</text>
<text x="267.20" y="402.60" font-size="9.6" text-anchor="middle" fill="#141414" stroke="#141414" stroke-width="0.1" style="" textLength="59.10" lengthAdjust="spacingAndGlyphs" >−0.003 ± 0.016</text>
<text x="477.20" y="381.60" font-size="9.6" text-anchor="middle" fill="#141414" stroke="#141414" stroke-width="0.1" style="" textLength="52.80" lengthAdjust="spacingAndGlyphs" >0.108 ± 0.014</text>
<text x="548.30" y="392.60" font-size="9.6" text-anchor="middle" fill="#141414" stroke="#141414" stroke-width="0.1" style="" textLength="52.70" lengthAdjust="spacingAndGlyphs" >0.034 ± 0.007</text>
<text x="604.60" y="402.80" font-size="9.6" text-anchor="middle" fill="#141414" stroke="#141414" stroke-width="0.1" style="" textLength="53.10" lengthAdjust="spacingAndGlyphs" >0.002 ± 0.006</text>
<rect x="40.5" y="20.6" width="282.50" height="214.90" fill="none" stroke="#9a9a9a" stroke-width="1.2"/>
<path d="M68.75 19.30V21.90M68.75 234.20V236.80M97.00 19.30V21.90M97.00 234.20V236.80M125.25 19.30V21.90M125.25 234.20V236.80M153.50 19.30V21.90M153.50 234.20V236.80M181.75 19.30V21.90M181.75 234.20V236.80M210.00 19.30V21.90M210.00 234.20V236.80M238.25 19.30V21.90M238.25 234.20V236.80M266.50 19.30V21.90M266.50 234.20V236.80M294.75 19.30V21.90M294.75 234.20V236.80M39.20 40.20H41.80M321.70 40.20H324.30M39.20 59.75H41.80M321.70 59.75H324.30M39.20 79.30H41.80M321.70 79.30H324.30M39.20 98.85H41.80M321.70 98.85H324.30M39.20 118.40H41.80M321.70 118.40H324.30M39.20 137.95H41.80M321.70 137.95H324.30M39.20 157.50H41.80M321.70 157.50H324.30M39.20 177.05H41.80M321.70 177.05H324.30M39.20 196.60H41.80M321.70 196.60H324.30M39.20 216.15H41.80M321.70 216.15H324.30M39.20 235.70H41.80M321.70 235.70H324.30" stroke="#1a1a1a" stroke-width="1.2" fill="none"/>
<text x="38.50" y="43.70" font-size="9.5" text-anchor="end" fill="#141414" stroke="#141414" stroke-width="0.04" style="" textLength="15.63" lengthAdjust="spacingAndGlyphs" >0.00</text>
<text x="38.50" y="63.25" font-size="9.5" text-anchor="end" fill="#141414" stroke="#141414" stroke-width="0.04" style="" textLength="20.66" lengthAdjust="spacingAndGlyphs" >−0.05</text>
<text x="38.50" y="82.80" font-size="9.5" text-anchor="end" fill="#141414" stroke="#141414" stroke-width="0.04" style="" textLength="20.66" lengthAdjust="spacingAndGlyphs" >−0.10</text>
<text x="38.50" y="102.35" font-size="9.5" text-anchor="end" fill="#141414" stroke="#141414" stroke-width="0.04" style="" textLength="20.66" lengthAdjust="spacingAndGlyphs" >−0.15</text>
<text x="38.50" y="121.90" font-size="9.5" text-anchor="end" fill="#141414" stroke="#141414" stroke-width="0.04" style="" textLength="20.66" lengthAdjust="spacingAndGlyphs" >−0.20</text>
<text x="38.50" y="141.45" font-size="9.5" text-anchor="end" fill="#141414" stroke="#141414" stroke-width="0.04" style="" textLength="20.66" lengthAdjust="spacingAndGlyphs" >−0.25</text>
<text x="38.50" y="161.00" font-size="9.5" text-anchor="end" fill="#141414" stroke="#141414" stroke-width="0.04" style="" textLength="20.66" lengthAdjust="spacingAndGlyphs" >−0.30</text>
<text x="38.50" y="180.55" font-size="9.5" text-anchor="end" fill="#141414" stroke="#141414" stroke-width="0.04" style="" textLength="20.66" lengthAdjust="spacingAndGlyphs" >−0.35</text>
<text x="38.50" y="200.10" font-size="9.5" text-anchor="end" fill="#141414" stroke="#141414" stroke-width="0.04" style="" textLength="20.66" lengthAdjust="spacingAndGlyphs" >−0.40</text>
<text x="38.50" y="219.65" font-size="9.5" text-anchor="end" fill="#141414" stroke="#141414" stroke-width="0.04" style="" textLength="20.66" lengthAdjust="spacingAndGlyphs" >−0.45</text>
<text x="38.50" y="239.20" font-size="9.5" text-anchor="end" fill="#141414" stroke="#141414" stroke-width="0.04" style="" textLength="20.66" lengthAdjust="spacingAndGlyphs" >−0.50</text>
<text x="68.95" y="243.80" font-size="9.5" text-anchor="middle" fill="#141414" stroke="#141414" stroke-width="0.04" style="" textLength="20.99" lengthAdjust="spacingAndGlyphs" >−11.5</text>
<text x="97.20" y="243.80" font-size="9.5" text-anchor="middle" fill="#141414" stroke="#141414" stroke-width="0.04" style="" textLength="20.99" lengthAdjust="spacingAndGlyphs" >−11.0</text>
<text x="125.45" y="243.80" font-size="9.5" text-anchor="middle" fill="#141414" stroke="#141414" stroke-width="0.04" style="" textLength="20.99" lengthAdjust="spacingAndGlyphs" >−10.5</text>
<text x="153.70" y="243.80" font-size="9.5" text-anchor="middle" fill="#141414" stroke="#141414" stroke-width="0.04" style="" textLength="20.99" lengthAdjust="spacingAndGlyphs" >−10.0</text>
<text x="181.95" y="243.80" font-size="9.5" text-anchor="middle" fill="#141414" stroke="#141414" stroke-width="0.04" style="" textLength="16.46" lengthAdjust="spacingAndGlyphs" >−9.5</text>
<text x="210.20" y="243.80" font-size="9.5" text-anchor="middle" fill="#141414" stroke="#141414" stroke-width="0.04" style="" textLength="16.46" lengthAdjust="spacingAndGlyphs" >−9.0</text>
<text x="238.45" y="243.80" font-size="9.5" text-anchor="middle" fill="#141414" stroke="#141414" stroke-width="0.04" style="" textLength="16.46" lengthAdjust="spacingAndGlyphs" >−8.5</text>
<text x="266.70" y="243.80" font-size="9.5" text-anchor="middle" fill="#141414" stroke="#141414" stroke-width="0.04" style="" textLength="16.46" lengthAdjust="spacingAndGlyphs" >−8.0</text>
<text x="294.95" y="243.80" font-size="9.5" text-anchor="middle" fill="#141414" stroke="#141414" stroke-width="0.04" style="" textLength="16.46" lengthAdjust="spacingAndGlyphs" >−7.5</text>
<rect x="380.6" y="20.8" width="282.00" height="214.60" fill="none" stroke="#9a9a9a" stroke-width="1.2"/>
<path d="M408.80 19.50V22.10M408.80 234.10V236.70M437.00 19.50V22.10M437.00 234.10V236.70M465.20 19.50V22.10M465.20 234.10V236.70M493.40 19.50V22.10M493.40 234.10V236.70M521.60 19.50V22.10M521.60 234.10V236.70M549.80 19.50V22.10M549.80 234.10V236.70M578.00 19.50V22.10M578.00 234.10V236.70M606.20 19.50V22.10M606.20 234.10V236.70M634.40 19.50V22.10M634.40 234.10V236.70M379.30 42.40H381.90M661.30 42.40H663.90M379.30 63.84H381.90M661.30 63.84H663.90M379.30 85.29H381.90M661.30 85.29H663.90M379.30 106.73H381.90M661.30 106.73H663.90M379.30 128.18H381.90M661.30 128.18H663.90M379.30 149.62H381.90M661.30 149.62H663.90M379.30 171.07H381.90M661.30 171.07H663.90M379.30 192.51H381.90M661.30 192.51H663.90M379.30 213.96H381.90M661.30 213.96H663.90M379.30 235.41H381.90M661.30 235.41H663.90" stroke="#1a1a1a" stroke-width="1.2" fill="none"/>
<text x="378.60" y="45.90" font-size="9.5" text-anchor="end" fill="#141414" stroke="#141414" stroke-width="0.04" style="" textLength="15.63" lengthAdjust="spacingAndGlyphs" >0.00</text>
<text x="378.60" y="67.34" font-size="9.5" text-anchor="end" fill="#141414" stroke="#141414" stroke-width="0.04" style="" textLength="20.66" lengthAdjust="spacingAndGlyphs" >−0.05</text>
<text x="378.60" y="88.79" font-size="9.5" text-anchor="end" fill="#141414" stroke="#141414" stroke-width="0.04" style="" textLength="20.66" lengthAdjust="spacingAndGlyphs" >−0.10</text>
<text x="378.60" y="110.23" font-size="9.5" text-anchor="end" fill="#141414" stroke="#141414" stroke-width="0.04" style="" textLength="20.66" lengthAdjust="spacingAndGlyphs" >−0.15</text>
<text x="378.60" y="131.68" font-size="9.5" text-anchor="end" fill="#141414" stroke="#141414" stroke-width="0.04" style="" textLength="20.66" lengthAdjust="spacingAndGlyphs" >−0.20</text>
<text x="378.60" y="153.12" font-size="9.5" text-anchor="end" fill="#141414" stroke="#141414" stroke-width="0.04" style="" textLength="20.66" lengthAdjust="spacingAndGlyphs" >−0.25</text>
<text x="378.60" y="174.57" font-size="9.5" text-anchor="end" fill="#141414" stroke="#141414" stroke-width="0.04" style="" textLength="20.66" lengthAdjust="spacingAndGlyphs" >−0.30</text>
<text x="378.60" y="196.01" font-size="9.5" text-anchor="end" fill="#141414" stroke="#141414" stroke-width="0.04" style="" textLength="20.66" lengthAdjust="spacingAndGlyphs" >−0.35</text>
<text x="378.60" y="217.46" font-size="9.5" text-anchor="end" fill="#141414" stroke="#141414" stroke-width="0.04" style="" textLength="20.66" lengthAdjust="spacingAndGlyphs" >−0.40</text>
<text x="378.60" y="238.91" font-size="9.5" text-anchor="end" fill="#141414" stroke="#141414" stroke-width="0.04" style="" textLength="20.66" lengthAdjust="spacingAndGlyphs" >−0.45</text>
<text x="409.00" y="243.70" font-size="9.5" text-anchor="middle" fill="#141414" stroke="#141414" stroke-width="0.04" style="" textLength="20.99" lengthAdjust="spacingAndGlyphs" >−11.5</text>
<text x="437.20" y="243.70" font-size="9.5" text-anchor="middle" fill="#141414" stroke="#141414" stroke-width="0.04" style="" textLength="20.99" lengthAdjust="spacingAndGlyphs" >−11.0</text>
<text x="465.40" y="243.70" font-size="9.5" text-anchor="middle" fill="#141414" stroke="#141414" stroke-width="0.04" style="" textLength="20.99" lengthAdjust="spacingAndGlyphs" >−10.5</text>
<text x="493.60" y="243.70" font-size="9.5" text-anchor="middle" fill="#141414" stroke="#141414" stroke-width="0.04" style="" textLength="20.99" lengthAdjust="spacingAndGlyphs" >−10.0</text>
<text x="521.80" y="243.70" font-size="9.5" text-anchor="middle" fill="#141414" stroke="#141414" stroke-width="0.04" style="" textLength="16.46" lengthAdjust="spacingAndGlyphs" >−9.5</text>
<text x="550.00" y="243.70" font-size="9.5" text-anchor="middle" fill="#141414" stroke="#141414" stroke-width="0.04" style="" textLength="16.46" lengthAdjust="spacingAndGlyphs" >−9.0</text>
<text x="578.20" y="243.70" font-size="9.5" text-anchor="middle" fill="#141414" stroke="#141414" stroke-width="0.04" style="" textLength="16.46" lengthAdjust="spacingAndGlyphs" >−8.5</text>
<text x="606.40" y="243.70" font-size="9.5" text-anchor="middle" fill="#141414" stroke="#141414" stroke-width="0.04" style="" textLength="16.46" lengthAdjust="spacingAndGlyphs" >−8.0</text>
<text x="634.60" y="243.70" font-size="9.5" text-anchor="middle" fill="#141414" stroke="#141414" stroke-width="0.04" style="" textLength="16.46" lengthAdjust="spacingAndGlyphs" >−7.5</text>
<rect x="40.5" y="260.5" width="282.50" height="155.00" fill="none" stroke="#9a9a9a" stroke-width="1.2"/>
<path d="M68.75 259.20V261.80M68.75 414.20V416.80M97.00 259.20V261.80M97.00 414.20V416.80M125.25 259.20V261.80M125.25 414.20V416.80M153.50 259.20V261.80M153.50 414.20V416.80M181.75 259.20V261.80M181.75 414.20V416.80M210.00 259.20V261.80M210.00 414.20V416.80M238.25 259.20V261.80M238.25 414.20V416.80M266.50 259.20V261.80M266.50 414.20V416.80M294.75 259.20V261.80M294.75 414.20V416.80M39.20 260.46H41.80M321.70 260.46H324.30M39.20 286.30H41.80M321.70 286.30H324.30M39.20 312.13H41.80M321.70 312.13H324.30M39.20 337.97H41.80M321.70 337.97H324.30M39.20 363.80H41.80M321.70 363.80H324.30M39.20 389.63H41.80M321.70 389.63H324.30M39.20 415.47H41.80M321.70 415.47H324.30" stroke="#1a1a1a" stroke-width="1.2" fill="none"/>
<text x="38.50" y="263.96" font-size="9.5" text-anchor="end" fill="#141414" stroke="#141414" stroke-width="0.04" style="" textLength="15.63" lengthAdjust="spacingAndGlyphs" >0.20</text>
<text x="38.50" y="289.80" font-size="9.5" text-anchor="end" fill="#141414" stroke="#141414" stroke-width="0.04" style="" textLength="15.63" lengthAdjust="spacingAndGlyphs" >0.15</text>
<text x="38.50" y="315.63" font-size="9.5" text-anchor="end" fill="#141414" stroke="#141414" stroke-width="0.04" style="" textLength="15.63" lengthAdjust="spacingAndGlyphs" >0.10</text>
<text x="38.50" y="341.47" font-size="9.5" text-anchor="end" fill="#141414" stroke="#141414" stroke-width="0.04" style="" textLength="15.63" lengthAdjust="spacingAndGlyphs" >0.05</text>
<text x="38.50" y="367.30" font-size="9.5" text-anchor="end" fill="#141414" stroke="#141414" stroke-width="0.04" style="" textLength="15.63" lengthAdjust="spacingAndGlyphs" >0.00</text>
<text x="38.50" y="393.13" font-size="9.5" text-anchor="end" fill="#141414" stroke="#141414" stroke-width="0.04" style="" textLength="20.66" lengthAdjust="spacingAndGlyphs" >−0.05</text>
<text x="38.50" y="418.97" font-size="9.5" text-anchor="end" fill="#141414" stroke="#141414" stroke-width="0.04" style="" textLength="20.66" lengthAdjust="spacingAndGlyphs" >−0.10</text>
<text x="68.95" y="423.80" font-size="9.5" text-anchor="middle" fill="#141414" stroke="#141414" stroke-width="0.04" style="" textLength="20.99" lengthAdjust="spacingAndGlyphs" >−11.5</text>
<text x="97.20" y="423.80" font-size="9.5" text-anchor="middle" fill="#141414" stroke="#141414" stroke-width="0.04" style="" textLength="20.99" lengthAdjust="spacingAndGlyphs" >−11.0</text>
<text x="125.45" y="423.80" font-size="9.5" text-anchor="middle" fill="#141414" stroke="#141414" stroke-width="0.04" style="" textLength="20.99" lengthAdjust="spacingAndGlyphs" >−10.5</text>
<text x="153.70" y="423.80" font-size="9.5" text-anchor="middle" fill="#141414" stroke="#141414" stroke-width="0.04" style="" textLength="20.99" lengthAdjust="spacingAndGlyphs" >−10.0</text>
<text x="181.95" y="423.80" font-size="9.5" text-anchor="middle" fill="#141414" stroke="#141414" stroke-width="0.04" style="" textLength="16.46" lengthAdjust="spacingAndGlyphs" >−9.5</text>
<text x="210.20" y="423.80" font-size="9.5" text-anchor="middle" fill="#141414" stroke="#141414" stroke-width="0.04" style="" textLength="16.46" lengthAdjust="spacingAndGlyphs" >−9.0</text>
<text x="238.45" y="423.80" font-size="9.5" text-anchor="middle" fill="#141414" stroke="#141414" stroke-width="0.04" style="" textLength="16.46" lengthAdjust="spacingAndGlyphs" >−8.5</text>
<text x="266.70" y="423.80" font-size="9.5" text-anchor="middle" fill="#141414" stroke="#141414" stroke-width="0.04" style="" textLength="16.46" lengthAdjust="spacingAndGlyphs" >−8.0</text>
<text x="294.95" y="423.80" font-size="9.5" text-anchor="middle" fill="#141414" stroke="#141414" stroke-width="0.04" style="" textLength="16.46" lengthAdjust="spacingAndGlyphs" >−7.5</text>
<rect x="380.6" y="260.5" width="282.00" height="155.00" fill="none" stroke="#9a9a9a" stroke-width="1.2"/>
<path d="M408.80 259.20V261.80M408.80 414.20V416.80M437.00 259.20V261.80M437.00 414.20V416.80M465.20 259.20V261.80M465.20 414.20V416.80M493.40 259.20V261.80M493.40 414.20V416.80M521.60 259.20V261.80M521.60 414.20V416.80M549.80 259.20V261.80M549.80 414.20V416.80M578.00 259.20V261.80M578.00 414.20V416.80M606.20 259.20V261.80M606.20 414.20V416.80M634.40 259.20V261.80M634.40 414.20V416.80M379.30 260.46H381.90M661.30 260.46H663.90M379.30 286.30H381.90M661.30 286.30H663.90M379.30 312.13H381.90M661.30 312.13H663.90M379.30 337.97H381.90M661.30 337.97H663.90M379.30 363.80H381.90M661.30 363.80H663.90M379.30 389.63H381.90M661.30 389.63H663.90M379.30 415.47H381.90M661.30 415.47H663.90" stroke="#1a1a1a" stroke-width="1.2" fill="none"/>
<text x="378.60" y="263.96" font-size="9.5" text-anchor="end" fill="#141414" stroke="#141414" stroke-width="0.04" style="" textLength="15.63" lengthAdjust="spacingAndGlyphs" >0.20</text>
<text x="378.60" y="289.80" font-size="9.5" text-anchor="end" fill="#141414" stroke="#141414" stroke-width="0.04" style="" textLength="15.63" lengthAdjust="spacingAndGlyphs" >0.15</text>
<text x="378.60" y="315.63" font-size="9.5" text-anchor="end" fill="#141414" stroke="#141414" stroke-width="0.04" style="" textLength="15.63" lengthAdjust="spacingAndGlyphs" >0.10</text>
<text x="378.60" y="341.47" font-size="9.5" text-anchor="end" fill="#141414" stroke="#141414" stroke-width="0.04" style="" textLength="15.63" lengthAdjust="spacingAndGlyphs" >0.05</text>
<text x="378.60" y="367.30" font-size="9.5" text-anchor="end" fill="#141414" stroke="#141414" stroke-width="0.04" style="" textLength="15.63" lengthAdjust="spacingAndGlyphs" >0.00</text>
<text x="378.60" y="393.13" font-size="9.5" text-anchor="end" fill="#141414" stroke="#141414" stroke-width="0.04" style="" textLength="20.66" lengthAdjust="spacingAndGlyphs" >−0.05</text>
<text x="378.60" y="418.97" font-size="9.5" text-anchor="end" fill="#141414" stroke="#141414" stroke-width="0.04" style="" textLength="20.66" lengthAdjust="spacingAndGlyphs" >−0.10</text>
<text x="409.00" y="423.80" font-size="9.5" text-anchor="middle" fill="#141414" stroke="#141414" stroke-width="0.04" style="" textLength="20.99" lengthAdjust="spacingAndGlyphs" >−11.5</text>
<text x="437.20" y="423.80" font-size="9.5" text-anchor="middle" fill="#141414" stroke="#141414" stroke-width="0.04" style="" textLength="20.99" lengthAdjust="spacingAndGlyphs" >−11.0</text>
<text x="465.40" y="423.80" font-size="9.5" text-anchor="middle" fill="#141414" stroke="#141414" stroke-width="0.04" style="" textLength="20.99" lengthAdjust="spacingAndGlyphs" >−10.5</text>
<text x="493.60" y="423.80" font-size="9.5" text-anchor="middle" fill="#141414" stroke="#141414" stroke-width="0.04" style="" textLength="20.99" lengthAdjust="spacingAndGlyphs" >−10.0</text>
<text x="521.80" y="423.80" font-size="9.5" text-anchor="middle" fill="#141414" stroke="#141414" stroke-width="0.04" style="" textLength="16.46" lengthAdjust="spacingAndGlyphs" >−9.5</text>
<text x="550.00" y="423.80" font-size="9.5" text-anchor="middle" fill="#141414" stroke="#141414" stroke-width="0.04" style="" textLength="16.46" lengthAdjust="spacingAndGlyphs" >−9.0</text>
<text x="578.20" y="423.80" font-size="9.5" text-anchor="middle" fill="#141414" stroke="#141414" stroke-width="0.04" style="" textLength="16.46" lengthAdjust="spacingAndGlyphs" >−8.5</text>
<text x="606.40" y="423.80" font-size="9.5" text-anchor="middle" fill="#141414" stroke="#141414" stroke-width="0.04" style="" textLength="16.46" lengthAdjust="spacingAndGlyphs" >−8.0</text>
<text x="634.60" y="423.80" font-size="9.5" text-anchor="middle" fill="#141414" stroke="#141414" stroke-width="0.04" style="" textLength="16.46" lengthAdjust="spacingAndGlyphs" >−7.5</text>
<rect x="46.7" y="26.7" width="134.8" height="34.2" rx="2" fill="#fff" fill-opacity="0.8" stroke="#e2e2e2" stroke-width="0.8"/>
<rect x="61.4" y="35.4" width="1.5" height="1.5" fill="#ff0000" fill-opacity="0.8"/>
<rect x="61.4" y="50.8" width="1.5" height="1.5" fill="#000080" fill-opacity="0.8"/>
<text x="82.30" y="38.90" font-size="11.8" text-anchor="start" fill="#141414" stroke="#141414" stroke-width="0.1" style="" textLength="85.20" lengthAdjust="spacingAndGlyphs" >observed ensemble</text>
<text x="82.30" y="54.60" font-size="11.6" text-anchor="start" fill="#141414" stroke="#141414" stroke-width="0.1" style="" textLength="94.40" lengthAdjust="spacingAndGlyphs" >Newtonian ensemble</text>
<rect x="126.3" y="265.5" width="192.4" height="16.7" rx="2" fill="#fff" fill-opacity="0.8" stroke="#e2e2e2" stroke-width="0.8"/>
<line x1="130.3" y1="272.6" x2="150" y2="272.6" stroke="#bf00bf" stroke-width="1.35" stroke-opacity="0.85"/>
<text x="157.80" y="276.00" font-size="9.8" text-anchor="start" fill="#141414" stroke="#141414" stroke-width="0.1" style="font-style:italic;" >δ</text>
<text x="162.60" y="277.30" font-size="6.7" text-anchor="start" fill="#141414" stroke="#141414" stroke-width="0.15" style="" textLength="23.50" lengthAdjust="spacingAndGlyphs" >AQUAL</text>
<text x="187.40" y="277.30" font-size="6.7" text-anchor="start" fill="#141414" stroke="#141414" stroke-width="0.15" style="" textLength="2.90" lengthAdjust="spacingAndGlyphs" >−</text>
<text x="191.50" y="277.30" font-size="6.7" text-anchor="start" fill="#141414" stroke="#141414" stroke-width="0.15" style="" textLength="22.30" lengthAdjust="spacingAndGlyphs" >Newton</text>
<text x="216.70" y="275.60" font-size="9.6" text-anchor="start" fill="#141414" stroke="#141414" stroke-width="0.1" style="" textLength="98.00" lengthAdjust="spacingAndGlyphs" >(circular orbit prediction)</text>
<text x="230.00" y="44.80" font-size="18.5" text-anchor="start" fill="#141414" stroke="#141414" stroke-width="0.1" style="font-style:italic;" textLength="9.00" lengthAdjust="spacingAndGlyphs" >d</text>
<text x="238.60" y="47.60" font-size="13" text-anchor="start" fill="#141414" stroke="#141414" stroke-width="0.1" style="font-style:italic;" textLength="11.80" lengthAdjust="spacingAndGlyphs" >M</text>
<text x="255.20" y="44.80" font-size="18.5" text-anchor="start" fill="#141414" stroke="#141414" stroke-width="0.1" style="" textLength="10.80" lengthAdjust="spacingAndGlyphs" >&lt;</text>
<text x="270.40" y="45.20" font-size="18.5" text-anchor="start" fill="#141414" stroke="#141414" stroke-width="0.1" style="" textLength="18.40" lengthAdjust="spacingAndGlyphs" >80</text>
<text x="294.60" y="45.20" font-size="18.5" text-anchor="start" fill="#141414" stroke="#141414" stroke-width="0.1" style="" textLength="17.00" lengthAdjust="spacingAndGlyphs" >pc</text>
<text x="259.00" y="62.60" font-size="10.8" text-anchor="start" fill="#141414" stroke="#141414" stroke-width="0.1" style="font-style:italic;" >f</text>
<text x="263.90" y="63.80" font-size="7.6" text-anchor="start" fill="#141414" stroke="#141414" stroke-width="0.1" style="" textLength="16.80" lengthAdjust="spacingAndGlyphs" >multi</text>
<text x="283.00" y="62.50" font-size="10" text-anchor="start" fill="#141414" stroke="#141414" stroke-width="0.1" style="" textLength="7.20" lengthAdjust="spacingAndGlyphs" >=</text>
<text x="292.00" y="62.50" font-size="9.6" text-anchor="start" fill="#141414" stroke="#141414" stroke-width="0.1" style="" textLength="19.80" lengthAdjust="spacingAndGlyphs" >0.34</text>
<text x="559.50" y="46.20" font-size="19.5" text-anchor="start" fill="#141414" stroke="#141414" stroke-width="0.1" style="font-style:italic;" textLength="9.50" lengthAdjust="spacingAndGlyphs" >d</text>
<text x="568.60" y="49.20" font-size="13.6" text-anchor="start" fill="#141414" stroke="#141414" stroke-width="0.1" style="font-style:italic;" textLength="11.90" lengthAdjust="spacingAndGlyphs" >M</text>
<text x="585.60" y="46.20" font-size="19.5" text-anchor="start" fill="#141414" stroke="#141414" stroke-width="0.1" style="" textLength="10.90" lengthAdjust="spacingAndGlyphs" >&lt;</text>
<text x="600.60" y="46.40" font-size="19.5" text-anchor="start" fill="#141414" stroke="#141414" stroke-width="0.1" style="" textLength="25.60" lengthAdjust="spacingAndGlyphs" >200</text>
<text x="633.80" y="46.40" font-size="19.5" text-anchor="start" fill="#141414" stroke="#141414" stroke-width="0.1" style="" textLength="17.60" lengthAdjust="spacingAndGlyphs" >pc</text>
<text x="652.00" y="66.50" font-size="11.8" text-anchor="end" fill="#141414" stroke="#141414" stroke-width="0.1" style="" textLength="19.90" lengthAdjust="spacingAndGlyphs" >0.58</text>
<text x="175.10" y="436.80" font-size="15.5" text-anchor="start" fill="#141414" stroke="#141414" stroke-width="0.1" style="font-style:italic;" >x</text>
<text x="182.70" y="439.60" font-size="12.2" text-anchor="start" fill="#141414" stroke="#141414" stroke-width="0.1" style="" textLength="5.80" lengthAdjust="spacingAndGlyphs" >0</text>
<text x="514.70" y="436.80" font-size="15.5" text-anchor="start" fill="#141414" stroke="#141414" stroke-width="0.1" style="font-style:italic;" >x</text>
<text x="522.30" y="439.60" font-size="12.2" text-anchor="start" fill="#141414" stroke="#141414" stroke-width="0.1" style="" textLength="5.80" lengthAdjust="spacingAndGlyphs" >0</text>
<polyline points="1.3,139.5 8.6,142.7 16.0,139.0" fill="none" stroke="#141414" stroke-width="1.0"/>
<polyline points="1.3,116.3 8.7,112.4 15.9,116.1" fill="none" stroke="#141414" stroke-width="1.0"/>
<text transform="translate(13.4,137.2) rotate(-90)" font-size="16" fill="#141414" stroke="#141414" stroke-width="0.2">Δ</text>
<line x1="14.3" y1="119.3" x2="14.3" y2="125.5" stroke="#141414" stroke-width="1.0"/>
<line x1="7.7" y1="122.4" x2="14.3" y2="122.4" stroke="#141414" stroke-width="1.0"/>
<text transform="translate(13.2,366.6) rotate(-90)" font-size="15.6" fill="#141414" stroke="#141414" stroke-width="0.12" style="font-style:italic">δ</text>
<text transform="translate(15.8,357.2) rotate(-90)" font-size="11" fill="#141414" stroke="#141414" stroke-width="0.1" textLength="13.3" lengthAdjust="spacingAndGlyphs">obs</text>
<line x1="11.4" y1="334.2" x2="11.4" y2="339.9" stroke="#141414" stroke-width="0.8"/>
<text transform="translate(15.6,331.4) rotate(-90)" font-size="11" fill="#141414" stroke="#141414" stroke-width="0.1" textLength="20.9" lengthAdjust="spacingAndGlyphs">newt</text>
</svg>
</body></html>
